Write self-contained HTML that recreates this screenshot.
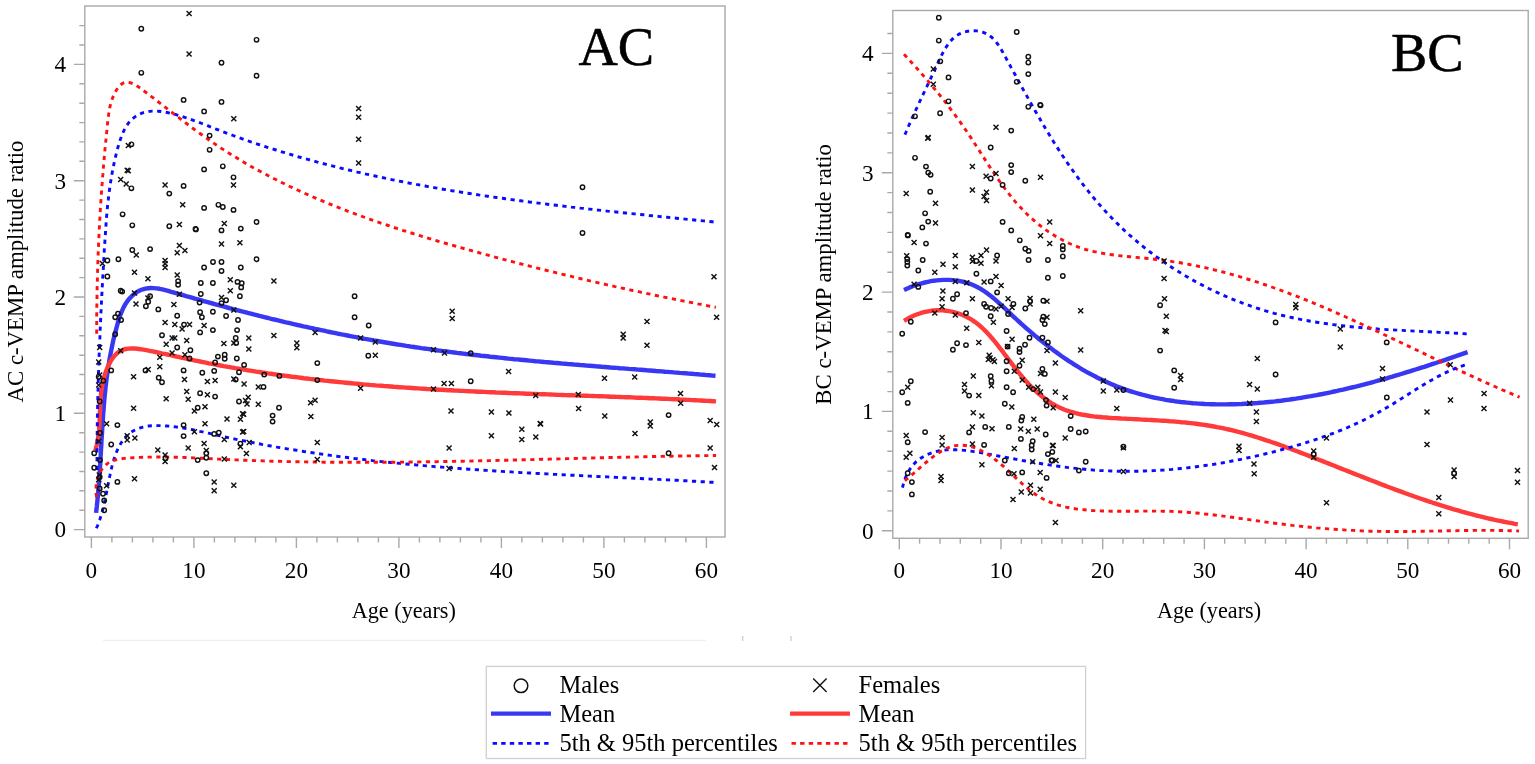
<!DOCTYPE html>
<html><head><meta charset="utf-8"><title>c-VEMP amplitude ratio</title>
<style>html,body{margin:0;padding:0;background:#fff;}body{width:1535px;height:764px;overflow:hidden;}svg{display:block;}text{fill:#000;}</style>
</head><body>
<svg width="1535" height="764" viewBox="0 0 1535 764"><rect width="1535" height="764" fill="#fff"/><rect x="84.8" y="6.0" width="640.2" height="531.0" fill="none" stroke="#a9a9a9" stroke-width="1.4"/><path d="M73.8,529.6h11.0M79.3,510.2h5.5M79.3,490.8h5.5M79.3,471.5h5.5M79.3,452.1h5.5M79.3,432.7h5.5M73.8,413.3h11.0M79.3,393.9h5.5M79.3,374.5h5.5M79.3,355.2h5.5M79.3,335.8h5.5M79.3,316.4h5.5M73.8,297.0h11.0M79.3,277.6h5.5M79.3,258.2h5.5M79.3,238.9h5.5M79.3,219.5h5.5M79.3,200.1h5.5M73.8,180.7h11.0M79.3,161.3h5.5M79.3,141.9h5.5M79.3,122.6h5.5M79.3,103.2h5.5M79.3,83.8h5.5M73.8,64.4h11.0M79.3,45.0h5.5M79.3,25.6h5.5M91.4,537.0v11.0M111.9,537.0v5.5M132.4,537.0v5.5M152.9,537.0v5.5M173.4,537.0v5.5M193.9,537.0v11.0M214.4,537.0v5.5M234.9,537.0v5.5M255.4,537.0v5.5M275.9,537.0v5.5M296.4,537.0v11.0M316.9,537.0v5.5M337.4,537.0v5.5M357.9,537.0v5.5M378.4,537.0v5.5M398.9,537.0v11.0M419.4,537.0v5.5M439.9,537.0v5.5M460.4,537.0v5.5M480.9,537.0v5.5M501.4,537.0v11.0M521.9,537.0v5.5M542.4,537.0v5.5M562.9,537.0v5.5M583.4,537.0v5.5M603.9,537.0v11.0M624.4,537.0v5.5M644.9,537.0v5.5M665.4,537.0v5.5M685.9,537.0v5.5M706.4,537.0v11.0" stroke="#a9a9a9" stroke-width="1.4" fill="none"/><text x="66.0" y="537.4" text-anchor="end" font-size="23.2" font-family="Liberation Serif, Times New Roman, serif">0</text><text x="66.0" y="421.1" text-anchor="end" font-size="23.2" font-family="Liberation Serif, Times New Roman, serif">1</text><text x="66.0" y="304.8" text-anchor="end" font-size="23.2" font-family="Liberation Serif, Times New Roman, serif">2</text><text x="66.0" y="188.5" text-anchor="end" font-size="23.2" font-family="Liberation Serif, Times New Roman, serif">3</text><text x="66.0" y="72.2" text-anchor="end" font-size="23.2" font-family="Liberation Serif, Times New Roman, serif">4</text><text x="91.4" y="577.8" text-anchor="middle" font-size="23.2" font-family="Liberation Serif, Times New Roman, serif">0</text><text x="193.9" y="577.8" text-anchor="middle" font-size="23.2" font-family="Liberation Serif, Times New Roman, serif">10</text><text x="296.4" y="577.8" text-anchor="middle" font-size="23.2" font-family="Liberation Serif, Times New Roman, serif">20</text><text x="398.9" y="577.8" text-anchor="middle" font-size="23.2" font-family="Liberation Serif, Times New Roman, serif">30</text><text x="501.4" y="577.8" text-anchor="middle" font-size="23.2" font-family="Liberation Serif, Times New Roman, serif">40</text><text x="603.9" y="577.8" text-anchor="middle" font-size="23.2" font-family="Liberation Serif, Times New Roman, serif">50</text><text x="706.4" y="577.8" text-anchor="middle" font-size="23.2" font-family="Liberation Serif, Times New Roman, serif">60</text><text x="403.8" y="617.8" text-anchor="middle" font-size="22.2" font-family="Liberation Serif, Times New Roman, serif">Age (years)</text><text transform="translate(22.5,271.5) rotate(-90)" text-anchor="middle" font-size="22.8" font-family="Liberation Serif, Times New Roman, serif">AC c-VEMP amplitude ratio</text><text x="578.5" y="64.5" font-size="54.5" stroke="#000" stroke-width="0.5" font-family="Liberation Serif, Times New Roman, serif">AC</text><path d="M96.1,512.9 L96.4,509.8 L96.8,506.8 L97.1,503.7 L97.4,500.7 L97.7,497.7 L98.0,494.6 L98.2,491.6 L98.5,488.6 L98.7,485.5 L99.0,482.5 L99.2,479.5 L99.4,476.5 L99.6,473.5 L99.8,470.5 L100.0,467.5 L100.2,464.5 L100.4,461.5 L100.5,458.5 L100.7,455.5 L100.9,452.5 L101.0,449.5 L101.2,446.5 L101.4,443.5 L101.5,440.5 L101.7,437.5 L101.9,434.5 L102.1,431.6 L102.2,428.6 L102.4,425.6 L102.6,422.6 L102.8,419.6 L103.0,416.7 L103.2,413.7 L103.5,410.7 L103.7,407.7 L103.9,404.7 L104.2,401.8 L104.4,398.8 L104.7,395.8 L105.0,392.8 L105.3,389.9 L105.6,386.9 L106.0,383.9 L106.3,380.9 L106.7,377.9 L107.1,375.0 L107.5,372.0 L108.0,369.0 L108.4,366.0 L108.9,363.0 L109.4,360.0 L109.9,357.1 L110.5,354.1 L111.1,351.1 L111.7,348.1 L112.3,345.1 L112.9,342.1 L113.6,339.1 L114.3,336.1 L115.1,333.1 L115.9,330.1 L116.7,327.0 L117.5,324.0 L118.4,321.0 L119.3,318.0 L120.3,315.1 L121.5,312.1 L122.7,309.3 L124.0,306.6 L125.5,303.9 L127.2,301.4 L129.0,299.1 L131.0,296.9 L133.2,294.9 L135.4,293.1 L137.8,291.5 L140.3,290.3 L142.9,289.3 L145.5,288.6 L148.2,288.2 L151.0,288.0 L153.8,288.1 L156.6,288.4 L159.5,288.8 L162.4,289.4 L165.3,290.1 L168.3,290.9 L171.2,291.8 L174.2,292.6 L177.1,293.5 L180.1,294.3 L183.1,295.2 L186.0,296.1 L189.0,296.9 L191.9,297.7 L194.9,298.6 L197.8,299.4 L200.8,300.2 L203.7,301.1 L206.7,301.9 L209.6,302.7 L212.6,303.5 L215.5,304.3 L218.5,305.1 L221.4,305.9 L224.3,306.7 L227.3,307.5 L230.2,308.3 L233.1,309.1 L236.1,309.8 L239.0,310.6 L241.9,311.4 L244.9,312.1 L247.8,312.9 L250.7,313.6 L253.7,314.4 L256.6,315.1 L259.5,315.9 L262.5,316.6 L265.4,317.3 L268.3,318.0 L271.2,318.8 L274.2,319.5 L277.1,320.2 L280.0,320.9 L283.0,321.6 L285.9,322.3 L288.8,322.9 L291.7,323.6 L294.7,324.3 L297.6,325.0 L300.5,325.6 L303.4,326.3 L306.4,326.9 L309.3,327.6 L312.2,328.2 L315.2,328.9 L318.1,329.5 L321.0,330.1 L324.0,330.7 L326.9,331.4 L329.8,332.0 L332.7,332.6 L335.7,333.2 L338.6,333.8 L341.6,334.4 L344.5,334.9 L347.4,335.5 L350.4,336.1 L353.3,336.7 L356.2,337.2 L359.2,337.8 L362.1,338.3 L365.1,338.9 L368.0,339.4 L371.0,339.9 L373.9,340.5 L376.9,341.0 L379.8,341.5 L382.8,342.0 L385.7,342.5 L388.7,343.0 L391.6,343.5 L394.6,344.0 L397.6,344.5 L400.5,344.9 L403.5,345.4 L406.5,345.9 L409.4,346.3 L412.4,346.8 L415.4,347.2 L418.4,347.6 L421.3,348.1 L424.3,348.5 L427.3,348.9 L430.3,349.3 L433.3,349.8 L436.2,350.2 L439.2,350.6 L442.2,351.0 L445.2,351.3 L448.2,351.7 L451.2,352.1 L454.2,352.5 L457.2,352.9 L460.2,353.2 L463.2,353.6 L466.2,354.0 L469.2,354.3 L472.2,354.7 L475.2,355.0 L478.2,355.3 L481.2,355.7 L484.2,356.0 L487.2,356.3 L490.2,356.7 L493.2,357.0 L496.2,357.3 L499.2,357.6 L502.2,357.9 L505.2,358.2 L508.2,358.6 L511.2,358.9 L514.3,359.2 L517.3,359.4 L520.3,359.7 L523.3,360.0 L526.3,360.3 L529.3,360.6 L532.3,360.9 L535.3,361.2 L538.4,361.4 L541.4,361.7 L544.4,362.0 L547.4,362.2 L550.4,362.5 L553.4,362.8 L556.5,363.0 L559.5,363.3 L562.5,363.6 L565.5,363.8 L568.5,364.1 L571.5,364.3 L574.6,364.6 L577.6,364.8 L580.6,365.1 L583.6,365.3 L586.6,365.6 L589.6,365.8 L592.6,366.0 L595.7,366.3 L598.7,366.5 L601.7,366.8 L604.7,367.0 L607.7,367.2 L610.7,367.5 L613.7,367.7 L616.7,367.9 L619.8,368.2 L622.8,368.4 L625.8,368.6 L628.8,368.9 L631.8,369.1 L634.8,369.3 L637.8,369.6 L640.8,369.8 L643.8,370.0 L646.8,370.3 L649.8,370.5 L652.8,370.7 L655.8,371.0 L658.8,371.2 L661.8,371.4 L664.8,371.7 L667.8,371.9 L670.8,372.1 L673.8,372.4 L676.8,372.6 L679.7,372.9 L682.7,373.1 L685.7,373.3 L688.7,373.6 L691.7,373.8 L694.7,374.1 L697.6,374.3 L700.6,374.6 L703.6,374.8 L706.6,375.1 L709.6,375.3 L712.5,375.6 L715.5,375.8" stroke="#3838f4" stroke-width="4.4" fill="none" stroke-linejoin="round"/><path d="M95.4,450.4 L96.2,447.4 L96.9,444.4 L97.5,441.4 L98.0,438.4 L98.4,435.4 L98.8,432.5 L99.1,429.5 L99.3,426.5 L99.5,423.5 L99.6,420.5 L99.7,417.5 L99.8,414.6 L99.9,411.6 L100.1,408.6 L100.2,405.6 L100.3,402.6 L100.5,399.6 L100.8,396.7 L101.0,393.7 L101.4,390.7 L101.8,387.7 L102.3,384.7 L103.0,381.7 L103.7,378.8 L104.5,375.8 L105.5,372.8 L106.6,369.8 L107.8,366.8 L109.2,363.9 L110.7,361.1 L112.4,358.5 L114.3,356.1 L116.3,354.0 L118.4,352.2 L120.8,350.8 L123.2,349.7 L125.9,349.0 L128.6,348.6 L131.4,348.5 L134.4,348.5 L137.3,348.8 L140.4,349.2 L143.4,349.7 L146.5,350.2 L149.5,350.8 L152.6,351.4 L155.6,352.0 L158.6,352.6 L161.6,353.3 L164.6,353.9 L167.5,354.5 L170.5,355.2 L173.5,355.8 L176.4,356.5 L179.4,357.1 L182.3,357.8 L185.3,358.4 L188.2,359.0 L191.1,359.7 L194.1,360.3 L197.0,360.9 L200.0,361.5 L202.9,362.1 L205.9,362.7 L208.8,363.3 L211.8,363.8 L214.7,364.4 L217.7,365.0 L220.6,365.5 L223.6,366.1 L226.5,366.6 L229.5,367.1 L232.5,367.6 L235.4,368.2 L238.4,368.7 L241.3,369.2 L244.3,369.7 L247.3,370.2 L250.2,370.6 L253.2,371.1 L256.2,371.6 L259.2,372.0 L262.1,372.5 L265.1,372.9 L268.1,373.4 L271.0,373.8 L274.0,374.2 L277.0,374.6 L280.0,375.1 L283.0,375.5 L285.9,375.9 L288.9,376.3 L291.9,376.7 L294.9,377.0 L297.9,377.4 L300.8,377.8 L303.8,378.2 L306.8,378.5 L309.8,378.9 L312.8,379.2 L315.8,379.6 L318.8,379.9 L321.8,380.2 L324.8,380.6 L327.7,380.9 L330.7,381.2 L333.7,381.5 L336.7,381.8 L339.7,382.1 L342.7,382.4 L345.7,382.7 L348.7,383.0 L351.7,383.3 L354.7,383.6 L357.7,383.8 L360.7,384.1 L363.7,384.4 L366.7,384.6 L369.7,384.9 L372.7,385.1 L375.7,385.4 L378.7,385.6 L381.7,385.8 L384.7,386.1 L387.7,386.3 L390.8,386.5 L393.8,386.8 L396.8,387.0 L399.8,387.2 L402.8,387.4 L405.8,387.6 L408.8,387.8 L411.8,388.0 L414.8,388.2 L417.8,388.4 L420.8,388.6 L423.9,388.8 L426.9,389.0 L429.9,389.1 L432.9,389.3 L435.9,389.5 L438.9,389.7 L441.9,389.8 L445.0,390.0 L448.0,390.2 L451.0,390.3 L454.0,390.5 L457.0,390.6 L460.0,390.8 L463.0,390.9 L466.1,391.1 L469.1,391.2 L472.1,391.4 L475.1,391.5 L478.1,391.7 L481.1,391.8 L484.2,391.9 L487.2,392.1 L490.2,392.2 L493.2,392.3 L496.2,392.5 L499.3,392.6 L502.3,392.7 L505.3,392.8 L508.3,393.0 L511.3,393.1 L514.3,393.2 L517.4,393.3 L520.4,393.4 L523.4,393.5 L526.4,393.7 L529.4,393.8 L532.5,393.9 L535.5,394.0 L538.5,394.1 L541.5,394.2 L544.5,394.3 L547.5,394.4 L550.6,394.5 L553.6,394.6 L556.6,394.8 L559.6,394.9 L562.6,395.0 L565.6,395.1 L568.7,395.2 L571.7,395.3 L574.7,395.4 L577.7,395.5 L580.7,395.6 L583.7,395.7 L586.8,395.8 L589.8,395.9 L592.8,396.0 L595.8,396.1 L598.8,396.2 L601.8,396.3 L604.8,396.4 L607.9,396.5 L610.9,396.7 L613.9,396.8 L616.9,396.9 L619.9,397.0 L622.9,397.1 L625.9,397.2 L628.9,397.3 L631.9,397.4 L634.9,397.6 L638.0,397.7 L641.0,397.8 L644.0,397.9 L647.0,398.0 L650.0,398.2 L653.0,398.3 L656.0,398.4 L659.0,398.5 L662.0,398.7 L665.0,398.8 L668.0,398.9 L671.0,399.1 L674.0,399.2 L677.0,399.3 L680.0,399.5 L683.0,399.6 L686.0,399.8 L689.0,399.9 L692.0,400.1 L695.0,400.2 L698.0,400.4 L701.0,400.5 L704.0,400.7 L707.0,400.9 L710.0,401.0 L713.0,401.2 L716.0,401.4" stroke="#ff3a3a" stroke-width="4.4" fill="none" stroke-linejoin="round"/><path d="M96.9,469.9 L96.9,466.9 L96.9,463.9 L97.0,460.9 L97.0,457.9 L97.0,454.9 L97.0,452.0 L97.0,449.0 L97.0,446.0 L97.1,443.0 L97.1,440.0 L97.1,437.0 L97.2,434.0 L97.2,430.9 L97.2,427.9 L97.3,424.9 L97.3,421.9 L97.4,418.9 L97.4,415.9 L97.5,412.9 L97.6,409.9 L97.6,406.9 L97.7,403.8 L97.8,400.8 L97.8,397.8 L97.9,394.8 L98.0,391.8 L98.1,388.7 L98.2,385.7 L98.2,382.7 L98.3,379.7 L98.4,376.7 L98.5,373.6 L98.6,370.6 L98.7,367.6 L98.8,364.6 L98.9,361.5 L99.0,358.5 L99.1,355.5 L99.3,352.5 L99.4,349.4 L99.5,346.4 L99.6,343.4 L99.7,340.4 L99.9,337.4 L100.0,334.3 L100.1,331.3 L100.2,328.3 L100.4,325.3 L100.5,322.2 L100.7,319.2 L100.8,316.2 L100.9,313.2 L101.1,310.2 L101.2,307.2 L101.4,304.1 L101.5,301.1 L101.7,298.1 L101.8,295.1 L102.0,292.1 L102.1,289.1 L102.3,286.1 L102.5,283.1 L102.6,280.1 L102.8,277.1 L103.0,274.1 L103.1,271.1 L103.3,268.1 L103.5,265.1 L103.6,262.1 L103.8,259.1 L104.0,256.1 L104.2,253.1 L104.3,250.1 L104.5,247.2 L104.7,244.2 L104.9,241.2 L105.1,238.2 L105.3,235.2 L105.5,232.3 L105.7,229.3 L105.9,226.3 L106.1,223.3 L106.3,220.4 L106.5,217.4 L106.8,214.4 L107.1,211.5 L107.3,208.5 L107.6,205.5 L107.9,202.5 L108.3,199.5 L108.6,196.6 L109.0,193.6 L109.4,190.6 L109.8,187.6 L110.2,184.6 L110.7,181.6 L111.2,178.6 L111.7,175.6 L112.2,172.6 L112.8,169.5 L113.4,166.5 L114.0,163.5 L114.7,160.5 L115.4,157.4 L116.1,154.4 L116.9,151.3 L117.7,148.2 L118.6,145.2 L119.5,142.1 L120.5,139.1 L121.5,136.2 L122.7,133.3 L123.9,130.6 L125.3,128.0 L126.8,125.5 L128.4,123.1 L130.2,121.0 L132.2,119.1 L134.3,117.3 L136.5,115.8 L138.9,114.5 L141.4,113.4 L144.0,112.5 L146.7,111.8 L149.5,111.4 L152.3,111.1 L155.2,111.1 L158.2,111.2 L161.2,111.5 L164.2,112.0 L167.2,112.5 L170.2,113.2 L173.1,113.9 L176.1,114.6 L179.0,115.5 L181.9,116.3 L184.8,117.3 L187.7,118.2 L190.6,119.2 L193.4,120.3 L196.3,121.3 L199.1,122.4 L201.9,123.5 L204.8,124.6 L207.6,125.7 L210.4,126.9 L213.3,128.0 L216.1,129.1 L218.9,130.2 L221.7,131.3 L224.6,132.3 L227.4,133.4 L230.3,134.5 L233.1,135.5 L236.0,136.5 L238.8,137.6 L241.7,138.6 L244.5,139.6 L247.4,140.6 L250.2,141.6 L253.1,142.5 L255.9,143.5 L258.8,144.5 L261.7,145.4 L264.6,146.4 L267.4,147.3 L270.3,148.2 L273.2,149.1 L276.0,150.0 L278.9,150.9 L281.8,151.8 L284.7,152.7 L287.6,153.6 L290.5,154.4 L293.4,155.3 L296.3,156.1 L299.1,157.0 L302.0,157.8 L304.9,158.6 L307.8,159.4 L310.7,160.2 L313.6,161.0 L316.6,161.8 L319.5,162.6 L322.4,163.4 L325.3,164.1 L328.2,164.9 L331.1,165.7 L334.0,166.4 L336.9,167.1 L339.9,167.9 L342.8,168.6 L345.7,169.3 L348.6,170.0 L351.6,170.7 L354.5,171.4 L357.4,172.1 L360.3,172.7 L363.3,173.4 L366.2,174.1 L369.1,174.7 L372.1,175.4 L375.0,176.0 L378.0,176.7 L380.9,177.3 L383.9,177.9 L386.8,178.5 L389.7,179.2 L392.7,179.8 L395.6,180.4 L398.6,181.0 L401.5,181.5 L404.5,182.1 L407.4,182.7 L410.4,183.3 L413.4,183.8 L416.3,184.4 L419.3,184.9 L422.2,185.5 L425.2,186.0 L428.2,186.6 L431.1,187.1 L434.1,187.6 L437.1,188.1 L440.0,188.7 L443.0,189.2 L446.0,189.7 L448.9,190.2 L451.9,190.7 L454.9,191.1 L457.8,191.6 L460.8,192.1 L463.8,192.6 L466.8,193.1 L469.8,193.5 L472.7,194.0 L475.7,194.4 L478.7,194.9 L481.7,195.3 L484.6,195.8 L487.6,196.2 L490.6,196.7 L493.6,197.1 L496.6,197.5 L499.6,197.9 L502.6,198.3 L505.5,198.8 L508.5,199.2 L511.5,199.6 L514.5,200.0 L517.5,200.4 L520.5,200.8 L523.5,201.2 L526.5,201.6 L529.5,202.0 L532.4,202.3 L535.4,202.7 L538.4,203.1 L541.4,203.5 L544.4,203.8 L547.4,204.2 L550.4,204.6 L553.4,204.9 L556.4,205.3 L559.4,205.7 L562.4,206.0 L565.4,206.4 L568.4,206.7 L571.4,207.1 L574.4,207.4 L577.4,207.7 L580.4,208.1 L583.4,208.4 L586.4,208.8 L589.4,209.1 L592.4,209.4 L595.4,209.8 L598.4,210.1 L601.4,210.4 L604.4,210.7 L607.4,211.1 L610.4,211.4 L613.4,211.7 L616.4,212.0 L619.4,212.3 L622.4,212.7 L625.4,213.0 L628.4,213.3 L631.4,213.6 L634.4,213.9 L637.4,214.2 L640.4,214.5 L643.4,214.8 L646.4,215.1 L649.4,215.5 L652.4,215.8 L655.4,216.1 L658.4,216.4 L661.4,216.7 L664.4,217.0 L667.3,217.3 L670.3,217.6 L673.3,217.9 L676.3,218.2 L679.3,218.5 L682.3,218.8 L685.3,219.1 L688.3,219.4 L691.3,219.7 L694.3,220.0 L697.3,220.3 L700.3,220.6 L703.3,220.9 L706.3,221.2 L709.3,221.5 L712.3,221.8 L715.2,222.2" stroke="#0a0aff" stroke-width="2.9" fill="none" stroke-dasharray="4.2 4.5"/><path d="M96.7,333.8 L96.7,330.7 L96.7,327.7 L96.7,324.7 L96.7,321.6 L96.7,318.6 L96.7,315.6 L96.8,312.5 L96.8,309.5 L96.8,306.5 L96.9,303.5 L96.9,300.4 L97.0,297.4 L97.0,294.4 L97.1,291.4 L97.1,288.4 L97.2,285.4 L97.3,282.3 L97.4,279.3 L97.4,276.3 L97.5,273.3 L97.6,270.3 L97.7,267.3 L97.8,264.3 L97.9,261.3 L98.0,258.3 L98.1,255.3 L98.2,252.3 L98.4,249.2 L98.5,246.2 L98.6,243.2 L98.7,240.2 L98.9,237.2 L99.0,234.2 L99.2,231.2 L99.3,228.2 L99.5,225.2 L99.6,222.2 L99.8,219.2 L100.0,216.2 L100.2,213.2 L100.3,210.2 L100.5,207.2 L100.7,204.2 L100.9,201.2 L101.1,198.2 L101.3,195.2 L101.5,192.2 L101.7,189.2 L101.9,186.2 L102.2,183.2 L102.4,180.2 L102.6,177.2 L102.9,174.2 L103.1,171.2 L103.3,168.2 L103.6,165.2 L103.9,162.2 L104.1,159.2 L104.4,156.2 L104.7,153.2 L104.9,150.1 L105.2,147.1 L105.5,144.1 L105.8,141.1 L106.1,138.1 L106.4,135.1 L106.7,132.1 L107.0,129.0 L107.3,126.0 L107.6,123.0 L108.0,120.0 L108.3,116.9 L108.7,113.9 L109.2,110.9 L109.7,107.9 L110.4,104.9 L111.2,101.9 L112.2,98.9 L113.4,95.9 L114.8,93.0 L116.3,90.2 L118.1,87.6 L120.0,85.5 L122.0,83.8 L124.1,82.7 L126.4,82.2 L128.7,82.4 L131.1,83.0 L133.5,84.0 L136.0,85.3 L138.5,86.9 L141.0,88.7 L143.5,90.6 L146.1,92.5 L148.6,94.4 L151.1,96.3 L153.6,98.2 L156.0,100.1 L158.5,102.0 L161.0,103.9 L163.4,105.8 L165.8,107.7 L168.3,109.6 L170.7,111.4 L173.1,113.3 L175.5,115.2 L178.0,117.0 L180.4,118.9 L182.8,120.7 L185.2,122.5 L187.6,124.3 L190.0,126.2 L192.4,128.0 L194.8,129.7 L197.3,131.5 L199.7,133.3 L202.1,135.0 L204.5,136.8 L207.0,138.5 L209.4,140.2 L211.9,141.9 L214.4,143.6 L216.8,145.3 L219.3,146.9 L221.8,148.6 L224.3,150.2 L226.8,151.8 L229.4,153.4 L231.9,155.0 L234.5,156.6 L237.0,158.1 L239.6,159.7 L242.1,161.2 L244.7,162.7 L247.3,164.2 L249.9,165.7 L252.5,167.2 L255.1,168.6 L257.7,170.1 L260.4,171.5 L263.0,172.9 L265.7,174.3 L268.3,175.7 L271.0,177.1 L273.6,178.5 L276.3,179.8 L279.0,181.2 L281.7,182.5 L284.4,183.8 L287.1,185.2 L289.8,186.5 L292.5,187.7 L295.3,189.0 L298.0,190.3 L300.7,191.5 L303.5,192.8 L306.2,194.0 L309.0,195.2 L311.7,196.4 L314.5,197.6 L317.3,198.8 L320.1,200.0 L322.9,201.2 L325.6,202.3 L328.4,203.5 L331.2,204.6 L334.0,205.8 L336.9,206.9 L339.7,208.0 L342.5,209.1 L345.3,210.2 L348.1,211.3 L351.0,212.3 L353.8,213.4 L356.7,214.5 L359.5,215.5 L362.4,216.5 L365.2,217.6 L368.1,218.6 L370.9,219.6 L373.8,220.6 L376.7,221.6 L379.5,222.6 L382.4,223.6 L385.3,224.6 L388.2,225.5 L391.1,226.5 L393.9,227.5 L396.8,228.4 L399.7,229.3 L402.6,230.3 L405.5,231.2 L408.4,232.1 L411.3,233.0 L414.2,233.9 L417.1,234.8 L420.0,235.7 L422.9,236.6 L425.8,237.5 L428.7,238.4 L431.7,239.3 L434.6,240.1 L437.5,241.0 L440.4,241.8 L443.3,242.7 L446.2,243.5 L449.1,244.4 L452.1,245.2 L455.0,246.0 L457.9,246.9 L460.8,247.7 L463.7,248.5 L466.6,249.3 L469.6,250.1 L472.5,250.9 L475.4,251.8 L478.3,252.5 L481.2,253.3 L484.1,254.1 L487.0,254.9 L490.0,255.7 L492.9,256.5 L495.8,257.3 L498.7,258.1 L501.6,258.8 L504.5,259.6 L507.4,260.4 L510.3,261.1 L513.2,261.9 L516.1,262.6 L519.0,263.4 L521.9,264.1 L524.9,264.9 L527.8,265.6 L530.7,266.4 L533.6,267.1 L536.5,267.9 L539.4,268.6 L542.3,269.3 L545.2,270.0 L548.1,270.8 L551.0,271.5 L553.9,272.2 L556.8,272.9 L559.7,273.6 L562.6,274.3 L565.5,275.0 L568.4,275.7 L571.4,276.4 L574.3,277.1 L577.2,277.8 L580.1,278.5 L583.0,279.2 L585.9,279.9 L588.8,280.6 L591.7,281.3 L594.7,281.9 L597.6,282.6 L600.5,283.3 L603.4,283.9 L606.3,284.6 L609.3,285.3 L612.2,285.9 L615.1,286.6 L618.0,287.2 L621.0,287.9 L623.9,288.5 L626.8,289.2 L629.8,289.8 L632.7,290.5 L635.6,291.1 L638.6,291.7 L641.5,292.4 L644.5,293.0 L647.4,293.6 L650.4,294.2 L653.3,294.9 L656.3,295.5 L659.2,296.1 L662.2,296.7 L665.1,297.3 L668.1,297.9 L671.1,298.5 L674.0,299.1 L677.0,299.7 L680.0,300.3 L682.9,300.9 L685.9,301.5 L688.9,302.1 L691.9,302.7 L694.9,303.3 L697.9,303.9 L700.9,304.4 L703.9,305.0 L706.9,305.6 L709.9,306.2 L712.9,306.7 L715.9,307.3" stroke="#ff1010" stroke-width="2.9" fill="none" stroke-dasharray="4.2 4.5"/><path d="M96.4,528.3 L97.6,525.5 L98.7,522.7 L99.7,519.9 L100.6,517.1 L101.5,514.3 L102.3,511.4 L103.1,508.6 L103.8,505.8 L104.4,502.9 L105.0,500.1 L105.6,497.2 L106.2,494.3 L106.8,491.3 L107.4,488.3 L107.9,485.3 L108.5,482.3 L109.1,479.2 L109.8,476.0 L110.4,472.9 L111.2,469.7 L111.9,466.5 L112.7,463.4 L113.6,460.3 L114.6,457.2 L115.7,454.3 L116.8,451.4 L118.1,448.5 L119.4,445.9 L120.9,443.3 L122.5,440.9 L124.2,438.6 L126.1,436.5 L128.1,434.6 L130.3,432.8 L132.6,431.3 L135.0,430.0 L137.6,428.8 L140.3,427.9 L143.0,427.1 L145.8,426.5 L148.7,426.0 L151.7,425.7 L154.7,425.6 L157.7,425.6 L160.7,425.6 L163.8,425.8 L166.8,426.0 L169.8,426.2 L172.8,426.6 L175.8,426.9 L178.8,427.4 L181.8,427.8 L184.7,428.3 L187.7,428.9 L190.7,429.4 L193.7,430.0 L196.6,430.6 L199.6,431.3 L202.6,431.9 L205.5,432.6 L208.5,433.2 L211.5,433.9 L214.4,434.6 L217.4,435.3 L220.4,435.9 L223.3,436.6 L226.3,437.2 L229.3,437.9 L232.2,438.5 L235.2,439.1 L238.2,439.7 L241.2,440.3 L244.1,440.9 L247.1,441.5 L250.1,442.1 L253.1,442.7 L256.0,443.3 L259.0,443.8 L262.0,444.4 L265.0,444.9 L267.9,445.5 L270.9,446.0 L273.9,446.5 L276.9,447.1 L279.9,447.6 L282.8,448.1 L285.8,448.6 L288.8,449.1 L291.8,449.6 L294.8,450.0 L297.8,450.5 L300.7,451.0 L303.7,451.5 L306.7,451.9 L309.7,452.4 L312.7,452.8 L315.7,453.3 L318.7,453.7 L321.7,454.1 L324.6,454.5 L327.6,455.0 L330.6,455.4 L333.6,455.8 L336.6,456.2 L339.6,456.6 L342.6,457.0 L345.6,457.3 L348.6,457.7 L351.6,458.1 L354.6,458.5 L357.6,458.8 L360.6,459.2 L363.6,459.5 L366.6,459.9 L369.6,460.2 L372.6,460.6 L375.6,460.9 L378.6,461.2 L381.6,461.6 L384.6,461.9 L387.6,462.2 L390.6,462.5 L393.6,462.8 L396.6,463.1 L399.6,463.4 L402.6,463.7 L405.6,464.0 L408.6,464.3 L411.6,464.6 L414.6,464.8 L417.6,465.1 L420.6,465.4 L423.6,465.6 L426.6,465.9 L429.6,466.2 L432.6,466.4 L435.6,466.7 L438.7,466.9 L441.7,467.1 L444.7,467.4 L447.7,467.6 L450.7,467.9 L453.7,468.1 L456.7,468.3 L459.7,468.5 L462.7,468.8 L465.7,469.0 L468.8,469.2 L471.8,469.4 L474.8,469.6 L477.8,469.8 L480.8,470.0 L483.8,470.2 L486.8,470.4 L489.8,470.6 L492.9,470.8 L495.9,471.0 L498.9,471.2 L501.9,471.4 L504.9,471.6 L507.9,471.7 L510.9,471.9 L514.0,472.1 L517.0,472.3 L520.0,472.5 L523.0,472.6 L526.0,472.8 L529.0,473.0 L532.0,473.1 L535.1,473.3 L538.1,473.5 L541.1,473.6 L544.1,473.8 L547.1,473.9 L550.1,474.1 L553.2,474.3 L556.2,474.4 L559.2,474.6 L562.2,474.7 L565.2,474.9 L568.2,475.0 L571.3,475.2 L574.3,475.3 L577.3,475.5 L580.3,475.6 L583.3,475.8 L586.4,475.9 L589.4,476.1 L592.4,476.2 L595.4,476.4 L598.4,476.5 L601.4,476.7 L604.5,476.8 L607.5,476.9 L610.5,477.1 L613.5,477.2 L616.5,477.4 L619.6,477.5 L622.6,477.7 L625.6,477.8 L628.6,478.0 L631.6,478.1 L634.6,478.2 L637.7,478.4 L640.7,478.5 L643.7,478.7 L646.7,478.8 L649.7,479.0 L652.8,479.1 L655.8,479.3 L658.8,479.4 L661.8,479.6 L664.8,479.7 L667.8,479.9 L670.9,480.0 L673.9,480.2 L676.9,480.3 L679.9,480.5 L682.9,480.7 L685.9,480.8 L689.0,481.0 L692.0,481.2 L695.0,481.3 L698.0,481.5 L701.0,481.7 L704.0,481.8 L707.1,482.0 L710.1,482.2 L713.1,482.3 L716.1,482.5" stroke="#0a0aff" stroke-width="2.9" fill="none" stroke-dasharray="4.2 4.5"/><path d="M96.6,497.2 L96.1,493.9 L95.9,490.5 L96.0,487.2 L96.4,483.9 L97.0,480.6 L97.9,477.5 L99.0,474.5 L100.4,471.7 L102.0,469.1 L103.8,466.8 L105.9,464.8 L108.1,463.1 L110.5,461.7 L113.1,460.6 L115.8,459.8 L118.7,459.2 L121.6,458.7 L124.5,458.4 L127.5,458.1 L130.5,457.9 L133.5,457.7 L136.6,457.6 L139.6,457.4 L142.6,457.3 L145.6,457.2 L148.6,457.1 L151.6,457.1 L154.6,457.0 L157.6,457.0 L160.6,457.0 L163.7,457.0 L166.7,457.0 L169.7,457.1 L172.7,457.2 L175.7,457.2 L178.7,457.3 L181.8,457.4 L184.8,457.5 L187.8,457.6 L190.8,457.8 L193.8,457.9 L196.9,458.0 L199.9,458.2 L202.9,458.3 L205.9,458.5 L209.0,458.6 L212.0,458.8 L215.0,458.9 L218.0,459.1 L221.0,459.2 L224.1,459.4 L227.1,459.5 L230.1,459.6 L233.1,459.8 L236.1,459.9 L239.2,460.0 L242.2,460.2 L245.2,460.3 L248.2,460.4 L251.3,460.5 L254.3,460.6 L257.3,460.7 L260.3,460.8 L263.3,460.9 L266.4,461.0 L269.4,461.1 L272.4,461.2 L275.4,461.3 L278.4,461.3 L281.5,461.4 L284.5,461.5 L287.5,461.6 L290.5,461.6 L293.5,461.7 L296.6,461.7 L299.6,461.8 L302.6,461.9 L305.6,461.9 L308.6,462.0 L311.7,462.0 L314.7,462.0 L317.7,462.1 L320.7,462.1 L323.7,462.2 L326.7,462.2 L329.8,462.2 L332.8,462.2 L335.8,462.3 L338.8,462.3 L341.8,462.3 L344.9,462.3 L347.9,462.3 L350.9,462.3 L353.9,462.3 L356.9,462.3 L360.0,462.3 L363.0,462.3 L366.0,462.3 L369.0,462.3 L372.0,462.3 L375.0,462.3 L378.1,462.3 L381.1,462.3 L384.1,462.3 L387.1,462.3 L390.1,462.2 L393.2,462.2 L396.2,462.2 L399.2,462.2 L402.2,462.1 L405.2,462.1 L408.2,462.1 L411.3,462.0 L414.3,462.0 L417.3,462.0 L420.3,461.9 L423.3,461.9 L426.4,461.8 L429.4,461.8 L432.4,461.7 L435.4,461.7 L438.4,461.6 L441.4,461.6 L444.5,461.5 L447.5,461.5 L450.5,461.4 L453.5,461.4 L456.5,461.3 L459.6,461.3 L462.6,461.2 L465.6,461.1 L468.6,461.1 L471.6,461.0 L474.6,461.0 L477.7,460.9 L480.7,460.8 L483.7,460.8 L486.7,460.7 L489.7,460.6 L492.7,460.6 L495.8,460.5 L498.8,460.4 L501.8,460.3 L504.8,460.3 L507.8,460.2 L510.9,460.1 L513.9,460.0 L516.9,460.0 L519.9,459.9 L522.9,459.8 L525.9,459.7 L529.0,459.7 L532.0,459.6 L535.0,459.5 L538.0,459.4 L541.0,459.3 L544.0,459.3 L547.1,459.2 L550.1,459.1 L553.1,459.0 L556.1,459.0 L559.1,458.9 L562.2,458.8 L565.2,458.7 L568.2,458.6 L571.2,458.6 L574.2,458.5 L577.2,458.4 L580.3,458.3 L583.3,458.2 L586.3,458.2 L589.3,458.1 L592.3,458.0 L595.4,457.9 L598.4,457.8 L601.4,457.8 L604.4,457.7 L607.4,457.6 L610.4,457.5 L613.5,457.5 L616.5,457.4 L619.5,457.3 L622.5,457.2 L625.5,457.2 L628.6,457.1 L631.6,457.0 L634.6,457.0 L637.6,456.9 L640.6,456.8 L643.6,456.7 L646.7,456.7 L649.7,456.6 L652.7,456.5 L655.7,456.5 L658.7,456.4 L661.8,456.4 L664.8,456.3 L667.8,456.2 L670.8,456.2 L673.8,456.1 L676.9,456.1 L679.9,456.0 L682.9,456.0 L685.9,455.9 L688.9,455.9 L692.0,455.8 L695.0,455.8 L698.0,455.7 L701.0,455.7 L704.0,455.6 L707.1,455.6 L710.1,455.6 L713.1,455.5 L716.1,455.5" stroke="#ff1010" stroke-width="2.9" fill="none" stroke-dasharray="4.2 4.5"/><g fill="none" stroke="#111" stroke-width="1.45"><circle cx="141.3" cy="28.8" r="2.2"/><circle cx="221.5" cy="62.7" r="2.2"/><circle cx="141.3" cy="72.8" r="2.2"/><circle cx="183.6" cy="99.9" r="2.2"/><circle cx="221.5" cy="101.9" r="2.2"/><circle cx="204.1" cy="111.4" r="2.2"/><circle cx="209.6" cy="135.6" r="2.2"/><circle cx="256.5" cy="39.8" r="2.2"/><circle cx="256.5" cy="75.7" r="2.2"/><circle cx="582.5" cy="187.2" r="2.2"/><circle cx="582.5" cy="233.0" r="2.2"/><circle cx="256.5" cy="222.0" r="2.2"/><circle cx="256.5" cy="259.2" r="2.2"/><circle cx="209.6" cy="149.8" r="2.2"/><circle cx="131.4" cy="144.3" r="2.2"/><circle cx="131.4" cy="188.3" r="2.2"/><circle cx="204.1" cy="169.4" r="2.2"/><circle cx="222.8" cy="166.3" r="2.2"/><circle cx="233.5" cy="177.3" r="2.2"/><circle cx="183.6" cy="185.9" r="2.2"/><circle cx="169.3" cy="193.6" r="2.2"/><circle cx="204.1" cy="207.9" r="2.2"/><circle cx="218.4" cy="204.8" r="2.2"/><circle cx="222.8" cy="207.0" r="2.2"/><circle cx="233.5" cy="209.9" r="2.2"/><circle cx="122.6" cy="214.3" r="2.2"/><circle cx="132.3" cy="225.3" r="2.2"/><circle cx="169.3" cy="226.2" r="2.2"/><circle cx="195.5" cy="229.0" r="2.2"/><circle cx="195.9" cy="229.4" r="2.2"/><circle cx="221.5" cy="230.4" r="2.2"/><circle cx="240.8" cy="228.6" r="2.2"/><circle cx="132.3" cy="250.0" r="2.2"/><circle cx="150.1" cy="249.1" r="2.2"/><circle cx="107.4" cy="260.5" r="2.2"/><circle cx="118.4" cy="259.2" r="2.2"/><circle cx="213.0" cy="262.0" r="2.2"/><circle cx="221.5" cy="262.0" r="2.2"/><circle cx="204.1" cy="267.5" r="2.2"/><circle cx="240.8" cy="267.5" r="2.2"/><circle cx="107.4" cy="276.5" r="2.2"/><circle cx="178.1" cy="281.1" r="2.2"/><circle cx="178.1" cy="284.8" r="2.2"/><circle cx="221.5" cy="271.0" r="2.2"/><circle cx="200.8" cy="283.0" r="2.2"/><circle cx="212.9" cy="283.0" r="2.2"/><circle cx="237.5" cy="281.9" r="2.2"/><circle cx="241.7" cy="283.3" r="2.2"/><circle cx="241.2" cy="287.4" r="2.2"/><circle cx="239.9" cy="296.2" r="2.2"/><circle cx="120.7" cy="290.7" r="2.2"/><circle cx="122.2" cy="291.6" r="2.2"/><circle cx="150.1" cy="296.2" r="2.2"/><circle cx="148.2" cy="301.7" r="2.2"/><circle cx="145.9" cy="306.2" r="2.2"/><circle cx="158.3" cy="309.4" r="2.2"/><circle cx="200.8" cy="294.0" r="2.2"/><circle cx="199.6" cy="302.6" r="2.2"/><circle cx="221.5" cy="303.1" r="2.2"/><circle cx="226.1" cy="300.2" r="2.2"/><circle cx="200.1" cy="312.3" r="2.2"/><circle cx="201.9" cy="317.2" r="2.2"/><circle cx="212.9" cy="311.7" r="2.2"/><circle cx="226.1" cy="316.0" r="2.2"/><circle cx="238.0" cy="320.0" r="2.2"/><circle cx="177.2" cy="315.8" r="2.2"/><circle cx="118.0" cy="313.6" r="2.2"/><circle cx="115.2" cy="317.2" r="2.2"/><circle cx="121.1" cy="320.0" r="2.2"/><circle cx="184.0" cy="324.6" r="2.2"/><circle cx="200.1" cy="332.4" r="2.2"/><circle cx="212.9" cy="330.1" r="2.2"/><circle cx="237.1" cy="330.1" r="2.2"/><circle cx="115.2" cy="334.3" r="2.2"/><circle cx="162.0" cy="335.2" r="2.2"/><circle cx="177.2" cy="347.5" r="2.2"/><circle cx="235.7" cy="338.0" r="2.2"/><circle cx="236.2" cy="342.9" r="2.2"/><circle cx="190.4" cy="350.2" r="2.2"/><circle cx="189.5" cy="358.5" r="2.2"/><circle cx="217.9" cy="356.6" r="2.2"/><circle cx="224.7" cy="354.8" r="2.2"/><circle cx="224.7" cy="358.8" r="2.2"/><circle cx="236.8" cy="358.5" r="2.2"/><circle cx="215.1" cy="362.5" r="2.2"/><circle cx="244.1" cy="364.9" r="2.2"/><circle cx="111.2" cy="370.4" r="2.2"/><circle cx="145.5" cy="370.4" r="2.2"/><circle cx="183.6" cy="370.4" r="2.2"/><circle cx="202.3" cy="372.8" r="2.2"/><circle cx="214.2" cy="370.9" r="2.2"/><circle cx="103.3" cy="380.8" r="2.2"/><circle cx="98.7" cy="376.8" r="2.2"/><circle cx="158.7" cy="377.7" r="2.2"/><circle cx="162.0" cy="382.3" r="2.2"/><circle cx="235.7" cy="379.6" r="2.2"/><circle cx="239.0" cy="372.2" r="2.2"/><circle cx="200.1" cy="393.3" r="2.2"/><circle cx="215.1" cy="396.6" r="2.2"/><circle cx="99.7" cy="401.5" r="2.2"/><circle cx="239.0" cy="401.5" r="2.2"/><circle cx="197.7" cy="407.7" r="2.2"/><circle cx="117.4" cy="425.1" r="2.2"/><circle cx="183.6" cy="425.1" r="2.2"/><circle cx="100.0" cy="433.0" r="2.2"/><circle cx="183.6" cy="436.1" r="2.2"/><circle cx="214.2" cy="433.9" r="2.2"/><circle cx="218.8" cy="432.6" r="2.2"/><circle cx="111.2" cy="444.5" r="2.2"/><circle cx="94.2" cy="453.2" r="2.2"/><circle cx="100.0" cy="460.1" r="2.2"/><circle cx="165.6" cy="458.3" r="2.2"/><circle cx="206.3" cy="453.2" r="2.2"/><circle cx="206.3" cy="457.7" r="2.2"/><circle cx="197.7" cy="460.1" r="2.2"/><circle cx="240.4" cy="443.6" r="2.2"/><circle cx="94.2" cy="467.8" r="2.2"/><circle cx="99.7" cy="477.0" r="2.2"/><circle cx="117.4" cy="481.9" r="2.2"/><circle cx="99.7" cy="488.5" r="2.2"/><circle cx="103.0" cy="493.8" r="2.2"/><circle cx="104.2" cy="500.4" r="2.2"/><circle cx="104.2" cy="510.3" r="2.2"/><circle cx="206.3" cy="473.3" r="2.2"/><circle cx="354.6" cy="296.2" r="2.2"/><circle cx="354.6" cy="317.2" r="2.2"/><circle cx="368.7" cy="325.5" r="2.2"/><circle cx="368.3" cy="355.7" r="2.2"/><circle cx="317.3" cy="363.1" r="2.2"/><circle cx="264.2" cy="374.6" r="2.2"/><circle cx="279.4" cy="375.9" r="2.2"/><circle cx="317.3" cy="380.1" r="2.2"/><circle cx="263.5" cy="386.9" r="2.2"/><circle cx="279.0" cy="407.7" r="2.2"/><circle cx="272.6" cy="415.6" r="2.2"/><circle cx="272.6" cy="421.6" r="2.2"/><circle cx="470.7" cy="353.1" r="2.2"/><circle cx="470.7" cy="381.3" r="2.2"/><circle cx="668.6" cy="415.1" r="2.2"/><circle cx="668.6" cy="453.2" r="2.2"/></g><g fill="none" stroke="#111" stroke-width="1.45"><path d="M186.6,10.9l5.0,5.0M186.6,15.9l5.0,-5.0"/><path d="M186.6,51.6l5.0,5.0M186.6,56.6l5.0,-5.0"/><path d="M231.3,116.3l5.0,5.0M231.3,121.3l5.0,-5.0"/><path d="M356.1,106.0l5.0,5.0M356.1,111.0l5.0,-5.0"/><path d="M356.1,114.8l5.0,5.0M356.1,119.8l5.0,-5.0"/><path d="M711.5,274.3l5.0,5.0M711.5,279.3l5.0,-5.0"/><path d="M356.1,136.7l5.0,5.0M356.1,141.7l5.0,-5.0"/><path d="M356.1,160.5l5.0,5.0M356.1,165.5l5.0,-5.0"/><path d="M125.8,143.1l5.0,5.0M125.8,148.1l5.0,-5.0"/><path d="M124.7,167.8l5.0,5.0M124.7,172.8l5.0,-5.0"/><path d="M125.8,168.2l5.0,5.0M125.8,173.2l5.0,-5.0"/><path d="M118.2,177.0l5.0,5.0M118.2,182.0l5.0,-5.0"/><path d="M123.7,181.6l5.0,5.0M123.7,186.6l5.0,-5.0"/><path d="M231.0,182.5l5.0,5.0M231.0,187.5l5.0,-5.0"/><path d="M162.6,182.5l5.0,5.0M162.6,187.5l5.0,-5.0"/><path d="M180.2,202.3l5.0,5.0M180.2,207.3l5.0,-5.0"/><path d="M176.9,221.9l5.0,5.0M176.9,226.9l5.0,-5.0"/><path d="M221.8,221.0l5.0,5.0M221.8,226.0l5.0,-5.0"/><path d="M219.0,241.5l5.0,5.0M219.0,246.5l5.0,-5.0"/><path d="M237.4,240.2l5.0,5.0M237.4,245.2l5.0,-5.0"/><path d="M133.8,252.5l5.0,5.0M133.8,257.5l5.0,-5.0"/><path d="M176.9,243.0l5.0,5.0M176.9,248.0l5.0,-5.0"/><path d="M182.4,248.1l5.0,5.0M182.4,253.1l5.0,-5.0"/><path d="M174.7,250.3l5.0,5.0M174.7,255.3l5.0,-5.0"/><path d="M99.9,260.9l5.0,5.0M99.9,265.9l5.0,-5.0"/><path d="M162.6,258.0l5.0,5.0M162.6,263.0l5.0,-5.0"/><path d="M162.6,261.3l5.0,5.0M162.6,266.3l5.0,-5.0"/><path d="M162.6,265.0l5.0,5.0M162.6,270.0l5.0,-5.0"/><path d="M132.0,269.8l5.0,5.0M132.0,274.8l5.0,-5.0"/><path d="M145.4,276.2l5.0,5.0M145.4,281.2l5.0,-5.0"/><path d="M174.7,272.6l5.0,5.0M174.7,277.6l5.0,-5.0"/><path d="M227.8,277.2l5.0,5.0M227.8,282.2l5.0,-5.0"/><path d="M227.8,288.2l5.0,5.0M227.8,293.2l5.0,-5.0"/><path d="M132.0,290.4l5.0,5.0M132.0,295.4l5.0,-5.0"/><path d="M145.4,295.5l5.0,5.0M145.4,300.5l5.0,-5.0"/><path d="M133.5,301.4l5.0,5.0M133.5,306.4l5.0,-5.0"/><path d="M176.9,291.8l5.0,5.0M176.9,296.8l5.0,-5.0"/><path d="M171.4,301.9l5.0,5.0M171.4,306.9l5.0,-5.0"/><path d="M219.0,295.1l5.0,5.0M219.0,300.1l5.0,-5.0"/><path d="M231.3,307.4l5.0,5.0M231.3,312.4l5.0,-5.0"/><path d="M162.6,319.9l5.0,5.0M162.6,324.9l5.0,-5.0"/><path d="M172.3,322.1l5.0,5.0M172.3,327.1l5.0,-5.0"/><path d="M187.0,322.1l5.0,5.0M187.0,327.1l5.0,-5.0"/><path d="M179.6,326.6l5.0,5.0M179.6,331.6l5.0,-5.0"/><path d="M201.6,323.0l5.0,5.0M201.6,328.0l5.0,-5.0"/><path d="M169.6,335.5l5.0,5.0M169.6,340.5l5.0,-5.0"/><path d="M172.3,335.5l5.0,5.0M172.3,340.5l5.0,-5.0"/><path d="M163.7,341.7l5.0,5.0M163.7,346.7l5.0,-5.0"/><path d="M184.2,338.0l5.0,5.0M184.2,343.0l5.0,-5.0"/><path d="M169.6,350.5l5.0,5.0M169.6,355.5l5.0,-5.0"/><path d="M221.4,340.9l5.0,5.0M221.4,345.9l5.0,-5.0"/><path d="M231.3,340.4l5.0,5.0M231.3,345.4l5.0,-5.0"/><path d="M97.2,345.0l5.0,5.0M97.2,350.0l5.0,-5.0"/><path d="M118.2,348.3l5.0,5.0M118.2,353.3l5.0,-5.0"/><path d="M96.2,359.6l5.0,5.0M96.2,364.6l5.0,-5.0"/><path d="M182.4,352.3l5.0,5.0M182.4,357.3l5.0,-5.0"/><path d="M157.3,354.7l5.0,5.0M157.3,359.7l5.0,-5.0"/><path d="M157.3,364.2l5.0,5.0M157.3,369.2l5.0,-5.0"/><path d="M145.7,367.0l5.0,5.0M145.7,372.0l5.0,-5.0"/><path d="M97.2,372.5l5.0,5.0M97.2,377.5l5.0,-5.0"/><path d="M131.1,374.3l5.0,5.0M131.1,379.3l5.0,-5.0"/><path d="M182.0,377.1l5.0,5.0M182.0,382.1l5.0,-5.0"/><path d="M204.9,378.9l5.0,5.0M204.9,383.9l5.0,-5.0"/><path d="M212.6,378.0l5.0,5.0M212.6,383.0l5.0,-5.0"/><path d="M231.3,376.5l5.0,5.0M231.3,381.5l5.0,-5.0"/><path d="M96.2,382.5l5.0,5.0M96.2,387.5l5.0,-5.0"/><path d="M241.6,381.6l5.0,5.0M241.6,386.6l5.0,-5.0"/><path d="M184.2,389.0l5.0,5.0M184.2,394.0l5.0,-5.0"/><path d="M185.7,396.7l5.0,5.0M185.7,401.7l5.0,-5.0"/><path d="M204.9,392.3l5.0,5.0M204.9,397.3l5.0,-5.0"/><path d="M163.7,396.3l5.0,5.0M163.7,401.3l5.0,-5.0"/><path d="M131.1,405.7l5.0,5.0M131.1,410.7l5.0,-5.0"/><path d="M191.9,408.5l5.0,5.0M191.9,413.5l5.0,-5.0"/><path d="M202.5,404.3l5.0,5.0M202.5,409.3l5.0,-5.0"/><path d="M224.5,416.4l5.0,5.0M224.5,421.4l5.0,-5.0"/><path d="M237.9,416.7l5.0,5.0M237.9,421.7l5.0,-5.0"/><path d="M240.1,411.2l5.0,5.0M240.1,416.2l5.0,-5.0"/><path d="M104.1,421.3l5.0,5.0M104.1,426.3l5.0,-5.0"/><path d="M202.5,421.3l5.0,5.0M202.5,426.3l5.0,-5.0"/><path d="M96.2,438.7l5.0,5.0M96.2,443.7l5.0,-5.0"/><path d="M124.7,433.2l5.0,5.0M124.7,438.2l5.0,-5.0"/><path d="M124.7,437.5l5.0,5.0M124.7,442.5l5.0,-5.0"/><path d="M132.4,435.6l5.0,5.0M132.4,440.6l5.0,-5.0"/><path d="M191.9,429.2l5.0,5.0M191.9,434.2l5.0,-5.0"/><path d="M221.8,436.9l5.0,5.0M221.8,441.9l5.0,-5.0"/><path d="M240.1,429.6l5.0,5.0M240.1,434.6l5.0,-5.0"/><path d="M155.3,447.5l5.0,5.0M155.3,452.5l5.0,-5.0"/><path d="M162.6,452.5l5.0,5.0M162.6,457.5l5.0,-5.0"/><path d="M162.6,458.9l5.0,5.0M162.6,463.9l5.0,-5.0"/><path d="M185.7,445.5l5.0,5.0M185.7,450.5l5.0,-5.0"/><path d="M201.6,441.1l5.0,5.0M201.6,446.1l5.0,-5.0"/><path d="M203.8,447.9l5.0,5.0M203.8,452.9l5.0,-5.0"/><path d="M221.8,456.5l5.0,5.0M221.8,461.5l5.0,-5.0"/><path d="M237.9,444.2l5.0,5.0M237.9,449.2l5.0,-5.0"/><path d="M96.8,472.6l5.0,5.0M96.8,477.6l5.0,-5.0"/><path d="M96.2,477.2l5.0,5.0M96.2,482.2l5.0,-5.0"/><path d="M132.0,476.3l5.0,5.0M132.0,481.3l5.0,-5.0"/><path d="M104.1,483.3l5.0,5.0M104.1,488.3l5.0,-5.0"/><path d="M211.7,479.4l5.0,5.0M211.7,484.4l5.0,-5.0"/><path d="M211.7,488.2l5.0,5.0M211.7,493.2l5.0,-5.0"/><path d="M231.3,482.7l5.0,5.0M231.3,487.7l5.0,-5.0"/><path d="M271.4,278.6l5.0,5.0M271.4,283.6l5.0,-5.0"/><path d="M246.3,335.5l5.0,5.0M246.3,340.5l5.0,-5.0"/><path d="M246.3,346.4l5.0,5.0M246.3,351.4l5.0,-5.0"/><path d="M271.4,333.1l5.0,5.0M271.4,338.1l5.0,-5.0"/><path d="M294.3,340.4l5.0,5.0M294.3,345.4l5.0,-5.0"/><path d="M294.3,345.3l5.0,5.0M294.3,350.3l5.0,-5.0"/><path d="M312.6,329.9l5.0,5.0M312.6,334.9l5.0,-5.0"/><path d="M358.1,335.5l5.0,5.0M358.1,340.5l5.0,-5.0"/><path d="M372.8,339.5l5.0,5.0M372.8,344.5l5.0,-5.0"/><path d="M372.8,352.7l5.0,5.0M372.8,357.7l5.0,-5.0"/><path d="M255.8,384.4l5.0,5.0M255.8,389.4l5.0,-5.0"/><path d="M358.1,385.7l5.0,5.0M358.1,390.7l5.0,-5.0"/><path d="M245.7,394.8l5.0,5.0M245.7,399.8l5.0,-5.0"/><path d="M243.0,398.1l5.0,5.0M243.0,403.1l5.0,-5.0"/><path d="M255.8,401.8l5.0,5.0M255.8,406.8l5.0,-5.0"/><path d="M312.6,397.8l5.0,5.0M312.6,402.8l5.0,-5.0"/><path d="M308.1,400.3l5.0,5.0M308.1,405.3l5.0,-5.0"/><path d="M244.5,401.5l5.0,5.0M244.5,406.5l5.0,-5.0"/><path d="M241.2,411.8l5.0,5.0M241.2,416.8l5.0,-5.0"/><path d="M308.4,414.0l5.0,5.0M308.4,419.0l5.0,-5.0"/><path d="M241.2,429.0l5.0,5.0M241.2,434.0l5.0,-5.0"/><path d="M246.7,440.0l5.0,5.0M246.7,445.0l5.0,-5.0"/><path d="M243.9,451.0l5.0,5.0M243.9,456.0l5.0,-5.0"/><path d="M314.8,440.0l5.0,5.0M314.8,445.0l5.0,-5.0"/><path d="M314.8,457.1l5.0,5.0M314.8,462.1l5.0,-5.0"/><path d="M449.7,308.8l5.0,5.0M449.7,313.8l5.0,-5.0"/><path d="M449.7,316.1l5.0,5.0M449.7,321.1l5.0,-5.0"/><path d="M431.0,347.3l5.0,5.0M431.0,352.3l5.0,-5.0"/><path d="M442.0,350.6l5.0,5.0M442.0,355.6l5.0,-5.0"/><path d="M506.1,368.9l5.0,5.0M506.1,373.9l5.0,-5.0"/><path d="M441.6,381.1l5.0,5.0M441.6,386.1l5.0,-5.0"/><path d="M448.9,381.1l5.0,5.0M448.9,386.1l5.0,-5.0"/><path d="M431.0,386.6l5.0,5.0M431.0,391.6l5.0,-5.0"/><path d="M533.2,393.1l5.0,5.0M533.2,398.1l5.0,-5.0"/><path d="M448.5,408.6l5.0,5.0M448.5,413.6l5.0,-5.0"/><path d="M488.9,409.6l5.0,5.0M488.9,414.6l5.0,-5.0"/><path d="M506.4,410.5l5.0,5.0M506.4,415.5l5.0,-5.0"/><path d="M537.7,421.0l5.0,5.0M537.7,426.0l5.0,-5.0"/><path d="M538.1,421.4l5.0,5.0M538.1,426.4l5.0,-5.0"/><path d="M519.3,426.7l5.0,5.0M519.3,431.7l5.0,-5.0"/><path d="M488.9,433.3l5.0,5.0M488.9,438.3l5.0,-5.0"/><path d="M519.3,437.1l5.0,5.0M519.3,442.1l5.0,-5.0"/><path d="M533.3,434.6l5.0,5.0M533.3,439.6l5.0,-5.0"/><path d="M446.6,445.6l5.0,5.0M446.6,450.6l5.0,-5.0"/><path d="M446.6,466.1l5.0,5.0M446.6,471.1l5.0,-5.0"/><path d="M714.1,314.7l5.0,5.0M714.1,319.7l5.0,-5.0"/><path d="M644.5,318.9l5.0,5.0M644.5,323.9l5.0,-5.0"/><path d="M620.7,331.7l5.0,5.0M620.7,336.7l5.0,-5.0"/><path d="M620.7,335.4l5.0,5.0M620.7,340.4l5.0,-5.0"/><path d="M644.5,342.7l5.0,5.0M644.5,347.7l5.0,-5.0"/><path d="M602.0,375.7l5.0,5.0M602.0,380.7l5.0,-5.0"/><path d="M632.2,374.4l5.0,5.0M632.2,379.4l5.0,-5.0"/><path d="M575.8,392.1l5.0,5.0M575.8,397.1l5.0,-5.0"/><path d="M678.0,390.9l5.0,5.0M678.0,395.9l5.0,-5.0"/><path d="M576.1,406.1l5.0,5.0M576.1,411.1l5.0,-5.0"/><path d="M602.3,413.6l5.0,5.0M602.3,418.6l5.0,-5.0"/><path d="M632.5,431.1l5.0,5.0M632.5,436.1l5.0,-5.0"/><path d="M647.8,419.5l5.0,5.0M647.8,424.5l5.0,-5.0"/><path d="M647.8,423.4l5.0,5.0M647.8,428.4l5.0,-5.0"/><path d="M678.2,400.8l5.0,5.0M678.2,405.8l5.0,-5.0"/><path d="M707.7,417.9l5.0,5.0M707.7,422.9l5.0,-5.0"/><path d="M714.2,421.9l5.0,5.0M714.2,426.9l5.0,-5.0"/><path d="M707.7,445.4l5.0,5.0M707.7,450.4l5.0,-5.0"/><path d="M712.0,465.0l5.0,5.0M712.0,470.0l5.0,-5.0"/></g><rect x="892.8" y="10.5" width="635.4" height="527.8" fill="none" stroke="#a9a9a9" stroke-width="1.4"/><path d="M881.8,530.8h11.0M887.3,510.9h5.5M887.3,491.0h5.5M887.3,471.1h5.5M887.3,451.2h5.5M887.3,431.3h5.5M881.8,411.4h11.0M887.3,391.6h5.5M887.3,371.7h5.5M887.3,351.8h5.5M887.3,331.9h5.5M887.3,312.0h5.5M881.8,292.1h11.0M887.3,272.2h5.5M887.3,252.3h5.5M887.3,232.4h5.5M887.3,212.5h5.5M887.3,192.6h5.5M881.8,172.8h11.0M887.3,152.9h5.5M887.3,133.0h5.5M887.3,113.1h5.5M887.3,93.2h5.5M887.3,73.3h5.5M881.8,53.4h11.0M887.3,33.5h5.5M899.3,538.3v11.0M919.6,538.3v5.5M940.0,538.3v5.5M960.3,538.3v5.5M980.7,538.3v5.5M1001.0,538.3v11.0M1021.3,538.3v5.5M1041.7,538.3v5.5M1062.0,538.3v5.5M1082.4,538.3v5.5M1102.7,538.3v11.0M1123.0,538.3v5.5M1143.4,538.3v5.5M1163.7,538.3v5.5M1184.1,538.3v5.5M1204.4,538.3v11.0M1224.7,538.3v5.5M1245.1,538.3v5.5M1265.4,538.3v5.5M1285.8,538.3v5.5M1306.1,538.3v11.0M1326.4,538.3v5.5M1346.8,538.3v5.5M1367.1,538.3v5.5M1387.5,538.3v5.5M1407.8,538.3v11.0M1428.1,538.3v5.5M1448.5,538.3v5.5M1468.8,538.3v5.5M1489.2,538.3v5.5M1509.5,538.3v11.0" stroke="#a9a9a9" stroke-width="1.4" fill="none"/><text x="873.5" y="538.6" text-anchor="end" font-size="23.2" font-family="Liberation Serif, Times New Roman, serif">0</text><text x="873.5" y="419.2" text-anchor="end" font-size="23.2" font-family="Liberation Serif, Times New Roman, serif">1</text><text x="873.5" y="299.9" text-anchor="end" font-size="23.2" font-family="Liberation Serif, Times New Roman, serif">2</text><text x="873.5" y="180.6" text-anchor="end" font-size="23.2" font-family="Liberation Serif, Times New Roman, serif">3</text><text x="873.5" y="61.2" text-anchor="end" font-size="23.2" font-family="Liberation Serif, Times New Roman, serif">4</text><text x="899.3" y="577.8" text-anchor="middle" font-size="23.2" font-family="Liberation Serif, Times New Roman, serif">0</text><text x="1001.0" y="577.8" text-anchor="middle" font-size="23.2" font-family="Liberation Serif, Times New Roman, serif">10</text><text x="1102.7" y="577.8" text-anchor="middle" font-size="23.2" font-family="Liberation Serif, Times New Roman, serif">20</text><text x="1204.4" y="577.8" text-anchor="middle" font-size="23.2" font-family="Liberation Serif, Times New Roman, serif">30</text><text x="1306.1" y="577.8" text-anchor="middle" font-size="23.2" font-family="Liberation Serif, Times New Roman, serif">40</text><text x="1407.8" y="577.8" text-anchor="middle" font-size="23.2" font-family="Liberation Serif, Times New Roman, serif">50</text><text x="1509.5" y="577.8" text-anchor="middle" font-size="23.2" font-family="Liberation Serif, Times New Roman, serif">60</text><text x="1209.0" y="617.8" text-anchor="middle" font-size="22.2" font-family="Liberation Serif, Times New Roman, serif">Age (years)</text><text transform="translate(830.5,274.3) rotate(-90)" text-anchor="middle" font-size="22.8" font-family="Liberation Serif, Times New Roman, serif">BC c-VEMP amplitude ratio</text><text x="1391" y="70.5" font-size="54.5" stroke="#000" stroke-width="0.5" font-family="Liberation Serif, Times New Roman, serif">BC</text><path d="M904.0,290.0 L906.9,288.7 L909.7,287.4 L912.7,286.2 L915.7,285.2 L918.7,284.2 L921.7,283.3 L924.8,282.5 L927.8,281.8 L930.9,281.2 L934.0,280.7 L937.1,280.4 L940.2,280.1 L943.3,279.9 L946.4,279.9 L949.4,279.9 L952.4,280.1 L955.4,280.4 L958.4,280.8 L961.3,281.4 L964.2,282.0 L967.0,282.8 L969.7,283.7 L972.4,284.8 L975.1,286.0 L977.6,287.2 L980.2,288.6 L982.6,290.2 L985.0,291.7 L987.4,293.4 L989.8,295.2 L992.1,297.0 L994.3,298.9 L996.6,300.9 L998.8,302.9 L1001.1,304.9 L1003.3,306.9 L1005.5,309.0 L1007.7,311.1 L1009.9,313.2 L1012.1,315.3 L1014.3,317.4 L1016.6,319.5 L1018.8,321.5 L1021.1,323.6 L1023.4,325.6 L1025.6,327.6 L1027.9,329.6 L1030.3,331.6 L1032.6,333.6 L1034.9,335.6 L1037.3,337.5 L1039.6,339.5 L1042.0,341.4 L1044.4,343.3 L1046.8,345.1 L1049.2,347.0 L1051.6,348.8 L1054.1,350.7 L1056.5,352.4 L1059.0,354.2 L1061.4,356.0 L1063.9,357.7 L1066.4,359.4 L1068.9,361.1 L1071.5,362.7 L1074.0,364.3 L1076.6,365.9 L1079.1,367.5 L1081.7,369.1 L1084.3,370.6 L1086.9,372.1 L1089.6,373.5 L1092.2,374.9 L1094.9,376.3 L1097.5,377.7 L1100.2,379.0 L1102.9,380.3 L1105.6,381.6 L1108.3,382.8 L1111.1,384.0 L1113.8,385.1 L1116.6,386.3 L1119.4,387.3 L1122.2,388.4 L1125.0,389.4 L1127.8,390.3 L1130.7,391.3 L1133.5,392.2 L1136.4,393.0 L1139.3,393.9 L1142.2,394.7 L1145.1,395.4 L1148.0,396.1 L1150.9,396.8 L1153.8,397.5 L1156.8,398.1 L1159.7,398.7 L1162.7,399.2 L1165.7,399.8 L1168.7,400.3 L1171.7,400.7 L1174.6,401.2 L1177.7,401.6 L1180.7,402.0 L1183.7,402.3 L1186.7,402.6 L1189.7,402.9 L1192.8,403.2 L1195.8,403.4 L1198.8,403.6 L1201.9,403.8 L1204.9,404.0 L1208.0,404.1 L1211.0,404.2 L1214.1,404.3 L1217.1,404.4 L1220.2,404.4 L1223.3,404.4 L1226.3,404.4 L1229.4,404.3 L1232.4,404.3 L1235.5,404.2 L1238.5,404.1 L1241.6,404.0 L1244.7,403.8 L1247.7,403.7 L1250.8,403.5 L1253.8,403.3 L1256.8,403.1 L1259.9,402.8 L1262.9,402.6 L1265.9,402.3 L1269.0,402.0 L1272.0,401.7 L1275.0,401.4 L1278.0,401.0 L1281.0,400.7 L1284.0,400.3 L1287.0,399.9 L1290.0,399.5 L1293.0,399.0 L1295.9,398.6 L1298.9,398.1 L1301.9,397.7 L1304.8,397.2 L1307.8,396.7 L1310.8,396.2 L1313.7,395.6 L1316.7,395.1 L1319.6,394.5 L1322.6,394.0 L1325.5,393.4 L1328.4,392.8 L1331.4,392.2 L1334.3,391.5 L1337.2,390.9 L1340.2,390.2 L1343.1,389.6 L1346.0,388.9 L1348.9,388.2 L1351.8,387.5 L1354.8,386.8 L1357.7,386.1 L1360.6,385.3 L1363.5,384.6 L1366.4,383.8 L1369.3,383.1 L1372.2,382.3 L1375.1,381.5 L1378.0,380.7 L1380.9,379.9 L1383.8,379.1 L1386.7,378.3 L1389.6,377.4 L1392.5,376.6 L1395.4,375.7 L1398.2,374.9 L1401.1,374.0 L1404.0,373.1 L1406.9,372.2 L1409.8,371.3 L1412.7,370.4 L1415.6,369.5 L1418.5,368.6 L1421.3,367.7 L1424.2,366.8 L1427.1,365.8 L1430.0,364.9 L1432.9,363.9 L1435.8,363.0 L1438.7,362.0 L1441.6,361.1 L1444.5,360.1 L1447.3,359.1 L1450.2,358.1 L1453.1,357.1 L1456.0,356.2 L1458.9,355.2 L1461.8,354.2 L1464.7,353.2 L1467.6,352.2" stroke="#3838f4" stroke-width="4.4" fill="none" stroke-linejoin="round"/><path d="M904.0,320.8 L907.0,319.1 L909.9,317.5 L912.9,316.0 L915.9,314.8 L919.0,313.7 L922.0,312.7 L925.0,311.9 L928.0,311.3 L931.1,310.8 L934.1,310.5 L937.1,310.3 L940.0,310.3 L943.0,310.4 L945.9,310.7 L948.8,311.1 L951.7,311.6 L954.5,312.3 L957.3,313.1 L960.0,314.0 L962.6,315.0 L965.3,316.2 L967.8,317.5 L970.3,318.9 L972.7,320.4 L975.1,322.1 L977.3,323.8 L979.6,325.6 L981.8,327.5 L983.9,329.5 L986.0,331.6 L988.0,333.8 L990.1,336.0 L992.0,338.2 L994.0,340.6 L995.9,342.9 L997.8,345.3 L999.7,347.8 L1001.6,350.2 L1003.5,352.7 L1005.3,355.2 L1007.2,357.7 L1009.1,360.2 L1011.0,362.7 L1012.9,365.2 L1014.8,367.7 L1016.7,370.2 L1018.7,372.6 L1020.7,375.0 L1022.7,377.4 L1024.7,379.7 L1026.8,382.0 L1028.8,384.3 L1031.0,386.5 L1033.1,388.6 L1035.3,390.7 L1037.5,392.7 L1039.8,394.6 L1042.1,396.5 L1044.4,398.3 L1046.8,400.1 L1049.2,401.7 L1051.7,403.3 L1054.2,404.7 L1056.7,406.1 L1059.3,407.4 L1062.0,408.6 L1064.7,409.7 L1067.4,410.7 L1070.2,411.6 L1073.0,412.4 L1075.8,413.2 L1078.7,413.9 L1081.6,414.5 L1084.6,415.0 L1087.5,415.5 L1090.5,416.0 L1093.5,416.4 L1096.5,416.7 L1099.6,417.0 L1102.6,417.3 L1105.7,417.5 L1108.7,417.8 L1111.8,418.0 L1114.9,418.1 L1117.9,418.3 L1121.0,418.5 L1124.1,418.6 L1127.1,418.8 L1130.2,418.9 L1133.2,419.1 L1136.3,419.2 L1139.3,419.4 L1142.4,419.6 L1145.4,419.7 L1148.4,419.9 L1151.4,420.0 L1154.5,420.2 L1157.5,420.4 L1160.5,420.6 L1163.5,420.7 L1166.5,420.9 L1169.5,421.2 L1172.5,421.4 L1175.5,421.6 L1178.5,421.9 L1181.5,422.2 L1184.4,422.4 L1187.4,422.8 L1190.4,423.1 L1193.4,423.4 L1196.3,423.8 L1199.3,424.2 L1202.2,424.6 L1205.2,425.0 L1208.1,425.5 L1211.1,426.0 L1214.0,426.5 L1217.0,427.1 L1219.9,427.6 L1222.8,428.2 L1225.8,428.9 L1228.7,429.5 L1231.6,430.2 L1234.5,430.9 L1237.4,431.7 L1240.3,432.4 L1243.2,433.2 L1246.1,434.0 L1249.0,434.9 L1251.9,435.7 L1254.8,436.6 L1257.7,437.5 L1260.5,438.4 L1263.4,439.3 L1266.3,440.3 L1269.2,441.2 L1272.0,442.2 L1274.9,443.2 L1277.8,444.2 L1280.6,445.2 L1283.5,446.2 L1286.3,447.3 L1289.2,448.3 L1292.0,449.4 L1294.9,450.5 L1297.7,451.5 L1300.5,452.6 L1303.4,453.7 L1306.2,454.8 L1309.0,455.9 L1311.9,457.0 L1314.7,458.1 L1317.5,459.2 L1320.3,460.3 L1323.1,461.4 L1325.9,462.5 L1328.8,463.6 L1331.6,464.7 L1334.4,465.8 L1337.2,467.0 L1340.0,468.1 L1342.8,469.2 L1345.6,470.3 L1348.4,471.4 L1351.2,472.5 L1354.0,473.6 L1356.8,474.7 L1359.6,475.8 L1362.4,476.9 L1365.2,478.0 L1368.0,479.1 L1370.8,480.2 L1373.7,481.3 L1376.5,482.4 L1379.3,483.5 L1382.1,484.6 L1384.9,485.6 L1387.7,486.7 L1390.5,487.7 L1393.3,488.8 L1396.1,489.9 L1398.9,490.9 L1401.8,491.9 L1404.6,493.0 L1407.4,494.0 L1410.2,495.0 L1413.1,496.0 L1415.9,497.0 L1418.7,498.0 L1421.6,499.0 L1424.4,499.9 L1427.2,500.9 L1430.1,501.8 L1432.9,502.8 L1435.8,503.7 L1438.7,504.6 L1441.5,505.5 L1444.4,506.4 L1447.3,507.3 L1450.1,508.2 L1453.0,509.1 L1455.9,509.9 L1458.8,510.7 L1461.7,511.6 L1464.6,512.4 L1467.5,513.2 L1470.4,513.9 L1473.3,514.7 L1476.2,515.5 L1479.2,516.2 L1482.1,516.9 L1485.0,517.6 L1488.0,518.3 L1490.9,519.0 L1493.9,519.7 L1496.9,520.3 L1499.8,520.9 L1502.8,521.5 L1505.8,522.1 L1508.8,522.7 L1511.8,523.2 L1514.8,523.8 L1517.8,524.3" stroke="#ff3a3a" stroke-width="4.4" fill="none" stroke-linejoin="round"/><path d="M904.9,134.7 L906.2,131.8 L907.4,128.9 L908.6,126.0 L909.9,123.2 L911.1,120.4 L912.3,117.6 L913.6,114.9 L914.8,112.2 L916.0,109.5 L917.3,106.8 L918.5,104.2 L919.7,101.5 L921.0,98.9 L922.2,96.3 L923.5,93.6 L924.7,91.0 L926.0,88.3 L927.3,85.7 L928.5,83.0 L929.8,80.3 L931.1,77.6 L932.4,74.8 L933.7,72.1 L935.0,69.3 L936.3,66.4 L937.7,63.5 L939.0,60.6 L940.4,57.7 L941.8,54.8 L943.3,52.0 L944.9,49.2 L946.5,46.6 L948.3,44.0 L950.1,41.6 L952.1,39.4 L954.3,37.4 L956.6,35.7 L959.1,34.1 L961.8,32.9 L964.6,31.9 L967.6,31.3 L970.6,30.9 L973.6,30.8 L976.7,30.9 L979.6,31.4 L982.5,32.1 L985.1,33.1 L987.6,34.4 L989.9,35.9 L992.1,37.7 L994.1,39.7 L996.0,41.8 L997.7,44.1 L999.4,46.6 L1001.0,49.1 L1002.5,51.7 L1004.0,54.4 L1005.5,57.1 L1006.9,59.8 L1008.4,62.5 L1009.9,65.2 L1011.3,67.9 L1012.8,70.6 L1014.3,73.3 L1015.8,75.9 L1017.2,78.6 L1018.7,81.3 L1020.2,84.0 L1021.6,86.7 L1023.1,89.4 L1024.6,92.1 L1026.1,94.7 L1027.6,97.4 L1029.1,100.1 L1030.6,102.7 L1032.1,105.4 L1033.6,108.0 L1035.1,110.7 L1036.6,113.3 L1038.1,116.0 L1039.7,118.6 L1041.2,121.2 L1042.7,123.8 L1044.3,126.5 L1045.8,129.1 L1047.4,131.7 L1049.0,134.2 L1050.6,136.8 L1052.1,139.4 L1053.7,142.0 L1055.4,144.5 L1057.0,147.1 L1058.6,149.6 L1060.2,152.1 L1061.9,154.7 L1063.6,157.2 L1065.2,159.7 L1066.9,162.2 L1068.6,164.6 L1070.3,167.1 L1072.1,169.6 L1073.8,172.0 L1075.5,174.4 L1077.3,176.9 L1079.1,179.3 L1080.9,181.7 L1082.7,184.1 L1084.5,186.4 L1086.3,188.8 L1088.2,191.1 L1090.1,193.5 L1092.0,195.8 L1093.9,198.1 L1095.8,200.4 L1097.7,202.6 L1099.7,204.9 L1101.7,207.1 L1103.7,209.3 L1105.7,211.6 L1107.7,213.7 L1109.8,215.9 L1111.8,218.1 L1113.9,220.2 L1116.0,222.3 L1118.2,224.4 L1120.3,226.5 L1122.5,228.6 L1124.7,230.7 L1126.9,232.7 L1129.1,234.7 L1131.4,236.7 L1133.7,238.7 L1136.0,240.6 L1138.3,242.6 L1140.6,244.5 L1142.9,246.4 L1145.3,248.3 L1147.7,250.1 L1150.1,252.0 L1152.5,253.8 L1154.9,255.6 L1157.3,257.4 L1159.8,259.2 L1162.3,260.9 L1164.8,262.6 L1167.3,264.3 L1169.8,266.0 L1172.3,267.7 L1174.9,269.3 L1177.5,270.9 L1180.0,272.5 L1182.6,274.1 L1185.2,275.7 L1187.9,277.2 L1190.5,278.7 L1193.1,280.2 L1195.8,281.7 L1198.5,283.1 L1201.1,284.5 L1203.8,285.9 L1206.5,287.3 L1209.2,288.7 L1212.0,290.0 L1214.7,291.3 L1217.5,292.6 L1220.2,293.9 L1223.0,295.1 L1225.8,296.3 L1228.5,297.5 L1231.3,298.7 L1234.1,299.8 L1237.0,300.9 L1239.8,302.0 L1242.6,303.1 L1245.4,304.2 L1248.3,305.2 L1251.1,306.2 L1254.0,307.1 L1256.9,308.1 L1259.7,309.0 L1262.6,309.9 L1265.5,310.8 L1268.4,311.6 L1271.3,312.5 L1274.2,313.3 L1277.1,314.0 L1280.0,314.8 L1282.9,315.5 L1285.8,316.2 L1288.7,316.9 L1291.7,317.5 L1294.6,318.2 L1297.5,318.8 L1300.5,319.4 L1303.4,319.9 L1306.4,320.5 L1309.3,321.0 L1312.3,321.5 L1315.3,322.0 L1318.2,322.5 L1321.2,323.0 L1324.2,323.4 L1327.2,323.8 L1330.1,324.2 L1333.1,324.6 L1336.1,325.0 L1339.1,325.4 L1342.1,325.7 L1345.1,326.0 L1348.1,326.4 L1351.1,326.7 L1354.1,327.0 L1357.1,327.3 L1360.1,327.5 L1363.1,327.8 L1366.1,328.0 L1369.1,328.3 L1372.1,328.5 L1375.1,328.7 L1378.1,329.0 L1381.2,329.2 L1384.2,329.4 L1387.2,329.6 L1390.2,329.8 L1393.2,329.9 L1396.3,330.1 L1399.3,330.3 L1402.3,330.4 L1405.3,330.6 L1408.3,330.8 L1411.4,330.9 L1414.4,331.1 L1417.4,331.2 L1420.4,331.4 L1423.4,331.5 L1426.5,331.7 L1429.5,331.8 L1432.5,332.0 L1435.5,332.1 L1438.5,332.3 L1441.5,332.4 L1444.5,332.6 L1447.6,332.7 L1450.6,332.9 L1453.6,333.1 L1456.6,333.2 L1459.6,333.4 L1462.6,333.6 L1465.6,333.8 L1468.6,333.9" stroke="#0a0aff" stroke-width="2.9" fill="none" stroke-dasharray="4.2 4.5"/><path d="M904.0,54.3 L906.1,56.5 L908.2,58.8 L910.2,61.0 L912.3,63.3 L914.3,65.5 L916.4,67.8 L918.4,70.0 L920.4,72.3 L922.4,74.6 L924.4,76.8 L926.3,79.1 L928.3,81.4 L930.2,83.7 L932.2,86.0 L934.1,88.3 L936.0,90.6 L937.9,92.9 L939.8,95.2 L941.7,97.6 L943.5,99.9 L945.4,102.2 L947.2,104.6 L949.0,107.0 L950.8,109.4 L952.6,111.8 L954.4,114.2 L956.2,116.6 L958.0,119.0 L959.7,121.4 L961.5,123.9 L963.2,126.4 L964.9,128.8 L966.6,131.3 L968.3,133.8 L970.0,136.4 L971.7,138.9 L973.3,141.4 L975.0,144.0 L976.6,146.5 L978.3,149.1 L980.0,151.7 L981.6,154.2 L983.3,156.8 L984.9,159.4 L986.6,161.9 L988.2,164.5 L989.9,167.1 L991.6,169.6 L993.3,172.1 L995.0,174.7 L996.7,177.2 L998.4,179.7 L1000.2,182.2 L1002.0,184.7 L1003.8,187.1 L1005.6,189.5 L1007.4,192.0 L1009.3,194.3 L1011.2,196.7 L1013.1,199.0 L1015.0,201.4 L1017.0,203.6 L1019.0,205.9 L1021.1,208.1 L1023.2,210.3 L1025.3,212.4 L1027.4,214.5 L1029.6,216.6 L1031.8,218.6 L1034.1,220.6 L1036.4,222.6 L1038.7,224.5 L1041.1,226.3 L1043.5,228.1 L1045.9,229.9 L1048.3,231.6 L1050.8,233.2 L1053.3,234.8 L1055.9,236.4 L1058.5,237.9 L1061.1,239.3 L1063.7,240.7 L1066.4,242.0 L1069.0,243.3 L1071.7,244.5 L1074.5,245.6 L1077.2,246.7 L1080.0,247.7 L1082.8,248.6 L1085.7,249.5 L1088.5,250.3 L1091.4,251.0 L1094.3,251.7 L1097.2,252.3 L1100.2,252.9 L1103.1,253.4 L1106.1,253.9 L1109.1,254.4 L1112.1,254.8 L1115.1,255.2 L1118.1,255.6 L1121.1,255.9 L1124.1,256.2 L1127.2,256.5 L1130.2,256.8 L1133.3,257.1 L1136.3,257.4 L1139.4,257.7 L1142.4,258.0 L1145.5,258.2 L1148.5,258.5 L1151.5,258.9 L1154.6,259.2 L1157.6,259.5 L1160.6,259.9 L1163.7,260.3 L1166.7,260.7 L1169.7,261.1 L1172.7,261.6 L1175.7,262.0 L1178.7,262.5 L1181.6,263.0 L1184.6,263.6 L1187.6,264.1 L1190.6,264.7 L1193.5,265.2 L1196.5,265.8 L1199.4,266.5 L1202.4,267.1 L1205.3,267.7 L1208.2,268.4 L1211.2,269.1 L1214.1,269.8 L1217.0,270.5 L1219.9,271.3 L1222.8,272.0 L1225.7,272.8 L1228.6,273.6 L1231.5,274.4 L1234.4,275.2 L1237.3,276.0 L1240.2,276.8 L1243.1,277.7 L1245.9,278.6 L1248.8,279.5 L1251.7,280.4 L1254.5,281.3 L1257.4,282.2 L1260.2,283.1 L1263.1,284.1 L1265.9,285.0 L1268.8,286.0 L1271.6,287.0 L1274.4,288.0 L1277.2,289.0 L1280.1,290.0 L1282.9,291.1 L1285.7,292.1 L1288.5,293.2 L1291.3,294.3 L1294.1,295.3 L1296.9,296.4 L1299.7,297.5 L1302.5,298.6 L1305.3,299.7 L1308.1,300.9 L1310.9,302.0 L1313.7,303.1 L1316.5,304.3 L1319.3,305.5 L1322.0,306.6 L1324.8,307.8 L1327.6,309.0 L1330.4,310.2 L1333.1,311.4 L1335.9,312.6 L1338.7,313.8 L1341.4,315.0 L1344.2,316.2 L1346.9,317.5 L1349.7,318.7 L1352.5,319.9 L1355.2,321.2 L1358.0,322.4 L1360.7,323.7 L1363.5,325.0 L1366.2,326.2 L1368.9,327.5 L1371.7,328.8 L1374.4,330.1 L1377.2,331.3 L1379.9,332.6 L1382.6,333.9 L1385.4,335.2 L1388.1,336.5 L1390.9,337.8 L1393.6,339.1 L1396.3,340.4 L1399.1,341.7 L1401.8,343.0 L1404.5,344.3 L1407.3,345.6 L1410.0,346.9 L1412.7,348.2 L1415.4,349.5 L1418.2,350.8 L1420.9,352.1 L1423.6,353.4 L1426.4,354.7 L1429.1,356.1 L1431.8,357.4 L1434.5,358.7 L1437.3,360.0 L1440.0,361.3 L1442.7,362.6 L1445.5,363.9 L1448.2,365.1 L1450.9,366.4 L1453.7,367.7 L1456.4,369.0 L1459.1,370.3 L1461.9,371.6 L1464.6,372.8 L1467.3,374.1 L1470.1,375.4 L1472.8,376.6 L1475.5,377.9 L1478.3,379.1 L1481.0,380.4 L1483.8,381.6 L1486.5,382.9 L1489.3,384.1 L1492.0,385.3 L1494.8,386.5 L1497.5,387.8 L1500.3,389.0 L1503.0,390.2 L1505.8,391.3 L1508.5,392.5 L1511.3,393.7 L1514.0,394.9 L1516.8,396.0 L1519.6,397.2" stroke="#ff1010" stroke-width="2.9" fill="none" stroke-dasharray="4.2 4.5"/><path d="M902.5,487.7 L903.4,483.9 L904.5,480.4 L905.7,477.1 L907.1,474.1 L908.6,471.2 L910.3,468.6 L912.1,466.2 L914.0,464.0 L916.0,461.9 L918.2,460.0 L920.4,458.4 L922.8,456.9 L925.2,455.5 L927.8,454.3 L930.4,453.3 L933.0,452.4 L935.7,451.6 L938.5,451.0 L941.3,450.5 L944.1,450.2 L947.0,449.9 L949.9,449.8 L952.8,449.7 L955.8,449.8 L958.8,449.9 L961.8,450.1 L964.8,450.4 L967.8,450.7 L970.8,451.1 L973.9,451.6 L977.0,452.1 L980.0,452.6 L983.1,453.1 L986.2,453.7 L989.2,454.3 L992.3,454.9 L995.3,455.4 L998.4,456.0 L1001.4,456.6 L1004.4,457.1 L1007.5,457.7 L1010.5,458.3 L1013.5,458.8 L1016.5,459.4 L1019.5,459.9 L1022.5,460.5 L1025.5,461.0 L1028.5,461.5 L1031.5,462.0 L1034.4,462.5 L1037.4,463.0 L1040.4,463.5 L1043.4,464.0 L1046.3,464.4 L1049.3,464.9 L1052.3,465.3 L1055.2,465.8 L1058.2,466.2 L1061.1,466.6 L1064.1,467.0 L1067.1,467.4 L1070.0,467.7 L1073.0,468.1 L1075.9,468.4 L1078.9,468.7 L1081.9,469.0 L1084.8,469.3 L1087.8,469.6 L1090.8,469.8 L1093.7,470.1 L1096.7,470.3 L1099.7,470.5 L1102.7,470.6 L1105.7,470.8 L1108.7,470.9 L1111.6,471.0 L1114.6,471.1 L1117.6,471.2 L1120.6,471.2 L1123.6,471.3 L1126.6,471.3 L1129.6,471.3 L1132.7,471.3 L1135.7,471.2 L1138.7,471.2 L1141.7,471.1 L1144.7,471.0 L1147.7,470.9 L1150.7,470.8 L1153.8,470.6 L1156.8,470.4 L1159.8,470.3 L1162.8,470.1 L1165.8,469.8 L1168.8,469.6 L1171.9,469.4 L1174.9,469.1 L1177.9,468.8 L1180.9,468.5 L1183.9,468.2 L1187.0,467.9 L1190.0,467.5 L1193.0,467.2 L1196.0,466.8 L1199.0,466.4 L1202.0,466.0 L1205.0,465.5 L1208.1,465.1 L1211.1,464.6 L1214.1,464.2 L1217.1,463.7 L1220.1,463.2 L1223.1,462.7 L1226.1,462.1 L1229.1,461.6 L1232.0,461.0 L1235.0,460.5 L1238.0,459.9 L1241.0,459.3 L1244.0,458.7 L1246.9,458.0 L1249.9,457.4 L1252.9,456.8 L1255.8,456.1 L1258.8,455.4 L1261.7,454.7 L1264.7,454.0 L1267.6,453.3 L1270.6,452.6 L1273.5,451.8 L1276.4,451.1 L1279.4,450.3 L1282.3,449.5 L1285.2,448.7 L1288.1,447.9 L1291.0,447.1 L1293.9,446.3 L1296.8,445.5 L1299.7,444.6 L1302.5,443.7 L1305.4,442.9 L1308.3,441.9 L1311.1,441.0 L1314.0,440.1 L1316.8,439.2 L1319.6,438.2 L1322.5,437.2 L1325.3,436.2 L1328.1,435.2 L1330.9,434.1 L1333.7,433.1 L1336.5,432.0 L1339.3,430.9 L1342.0,429.8 L1344.8,428.6 L1347.6,427.5 L1350.3,426.3 L1353.0,425.1 L1355.8,423.8 L1358.5,422.6 L1361.2,421.3 L1363.9,420.0 L1366.6,418.6 L1369.3,417.3 L1371.9,415.9 L1374.6,414.5 L1377.3,413.1 L1379.9,411.6 L1382.5,410.1 L1385.1,408.6 L1387.8,407.0 L1390.4,405.5 L1393.0,403.9 L1395.5,402.3 L1398.1,400.7 L1400.7,399.1 L1403.3,397.4 L1405.9,395.8 L1408.4,394.2 L1411.0,392.5 L1413.6,390.9 L1416.2,389.3 L1418.8,387.7 L1421.4,386.1 L1424.0,384.5 L1426.6,383.0 L1429.2,381.4 L1431.8,379.9 L1434.5,378.5 L1437.1,377.0 L1439.8,375.6 L1442.5,374.3 L1445.2,372.9 L1447.9,371.6 L1450.6,370.4 L1453.4,369.2 L1456.2,368.1 L1459.0,367.0 L1461.8,366.0 L1464.6,365.1 L1467.5,364.2" stroke="#0a0aff" stroke-width="2.9" fill="none" stroke-dasharray="4.2 4.5"/><path d="M904.8,480.7 L906.8,479.2 L908.9,477.5 L911.1,475.6 L913.3,473.7 L915.6,471.7 L917.9,469.6 L920.3,467.4 L922.8,465.3 L925.2,463.1 L927.8,461.0 L930.3,458.9 L932.9,456.8 L935.6,454.9 L938.2,453.1 L940.9,451.4 L943.6,449.9 L946.3,448.5 L949.1,447.4 L951.8,446.5 L954.5,445.8 L957.3,445.4 L960.0,445.2 L962.7,445.2 L965.5,445.5 L968.2,445.9 L970.9,446.6 L973.6,447.4 L976.2,448.3 L978.9,449.5 L981.5,450.8 L984.1,452.2 L986.7,453.7 L989.2,455.3 L991.8,457.0 L994.2,458.9 L996.7,460.7 L999.1,462.7 L1001.4,464.7 L1003.8,466.7 L1006.1,468.8 L1008.4,470.9 L1010.6,473.0 L1012.9,475.1 L1015.1,477.2 L1017.4,479.3 L1019.7,481.4 L1021.9,483.5 L1024.2,485.5 L1026.5,487.4 L1028.8,489.4 L1031.2,491.2 L1033.6,493.0 L1036.0,494.7 L1038.5,496.3 L1041.0,497.8 L1043.6,499.2 L1046.3,500.5 L1049.0,501.7 L1051.7,502.8 L1054.5,503.9 L1057.4,504.8 L1060.2,505.6 L1063.1,506.4 L1066.1,507.1 L1069.1,507.7 L1072.1,508.2 L1075.1,508.7 L1078.1,509.1 L1081.2,509.5 L1084.3,509.8 L1087.3,510.1 L1090.4,510.4 L1093.5,510.6 L1096.6,510.7 L1099.7,510.9 L1102.8,511.0 L1105.8,511.1 L1108.9,511.1 L1111.9,511.2 L1115.0,511.2 L1118.0,511.2 L1121.1,511.2 L1124.1,511.2 L1127.1,511.2 L1130.2,511.2 L1133.2,511.2 L1136.2,511.2 L1139.2,511.1 L1142.2,511.1 L1145.2,511.1 L1148.2,511.1 L1151.2,511.1 L1154.2,511.1 L1157.2,511.1 L1160.2,511.1 L1163.2,511.2 L1166.2,511.2 L1169.2,511.3 L1172.2,511.4 L1175.2,511.6 L1178.2,511.7 L1181.2,511.9 L1184.2,512.1 L1187.2,512.3 L1190.2,512.5 L1193.2,512.8 L1196.2,513.0 L1199.2,513.3 L1202.2,513.6 L1205.2,514.0 L1208.3,514.3 L1211.3,514.6 L1214.3,515.0 L1217.3,515.4 L1220.3,515.7 L1223.3,516.1 L1226.3,516.5 L1229.3,516.9 L1232.3,517.3 L1235.3,517.7 L1238.3,518.2 L1241.4,518.6 L1244.4,519.0 L1247.4,519.4 L1250.4,519.9 L1253.4,520.3 L1256.4,520.7 L1259.4,521.1 L1262.4,521.5 L1265.4,522.0 L1268.4,522.4 L1271.4,522.8 L1274.5,523.2 L1277.5,523.6 L1280.5,523.9 L1283.5,524.3 L1286.5,524.7 L1289.5,525.0 L1292.5,525.4 L1295.5,525.7 L1298.5,526.0 L1301.5,526.4 L1304.5,526.7 L1307.5,527.0 L1310.5,527.3 L1313.5,527.6 L1316.5,527.9 L1319.5,528.1 L1322.5,528.4 L1325.5,528.6 L1328.5,528.9 L1331.5,529.1 L1334.6,529.3 L1337.6,529.5 L1340.6,529.7 L1343.6,529.9 L1346.6,530.1 L1349.6,530.3 L1352.6,530.4 L1355.6,530.6 L1358.6,530.7 L1361.6,530.9 L1364.7,531.0 L1367.7,531.1 L1370.7,531.2 L1373.7,531.3 L1376.7,531.3 L1379.7,531.4 L1382.8,531.4 L1385.8,531.5 L1388.8,531.5 L1391.8,531.5 L1394.9,531.5 L1397.9,531.5 L1400.9,531.5 L1404.0,531.5 L1407.0,531.5 L1410.0,531.5 L1413.0,531.4 L1416.1,531.4 L1419.1,531.4 L1422.1,531.3 L1425.2,531.3 L1428.2,531.2 L1431.2,531.1 L1434.3,531.1 L1437.3,531.0 L1440.3,531.0 L1443.4,530.9 L1446.4,530.8 L1449.4,530.8 L1452.5,530.7 L1455.5,530.7 L1458.5,530.6 L1461.6,530.6 L1464.6,530.5 L1467.6,530.5 L1470.7,530.5 L1473.7,530.4 L1476.7,530.4 L1479.8,530.4 L1482.8,530.4 L1485.8,530.4 L1488.8,530.4 L1491.9,530.4 L1494.9,530.4 L1497.9,530.4 L1500.9,530.5 L1503.9,530.5 L1506.9,530.6 L1510.0,530.7 L1513.0,530.8 L1516.0,530.9 L1519.0,531.0" stroke="#ff1010" stroke-width="2.9" fill="none" stroke-dasharray="4.2 4.5"/><g fill="none" stroke="#111" stroke-width="1.45"><circle cx="938.8" cy="17.7" r="2.2"/><circle cx="938.8" cy="40.6" r="2.2"/><circle cx="940.3" cy="61.3" r="2.2"/><circle cx="948.5" cy="77.4" r="2.2"/><circle cx="948.5" cy="101.3" r="2.2"/><circle cx="940.1" cy="113.2" r="2.2"/><circle cx="915.0" cy="116.3" r="2.2"/><circle cx="1016.7" cy="32.0" r="2.2"/><circle cx="1028.3" cy="56.7" r="2.2"/><circle cx="1028.3" cy="62.6" r="2.2"/><circle cx="1028.3" cy="74.1" r="2.2"/><circle cx="1016.7" cy="81.8" r="2.2"/><circle cx="1028.3" cy="106.8" r="2.2"/><circle cx="1040.2" cy="104.8" r="2.2"/><circle cx="1040.6" cy="105.3" r="2.2"/><circle cx="1011.2" cy="130.6" r="2.2"/><circle cx="990.7" cy="147.5" r="2.2"/><circle cx="915.0" cy="157.8" r="2.2"/><circle cx="926.0" cy="166.6" r="2.2"/><circle cx="928.2" cy="172.6" r="2.2"/><circle cx="930.6" cy="174.8" r="2.2"/><circle cx="990.7" cy="178.5" r="2.2"/><circle cx="1002.6" cy="184.9" r="2.2"/><circle cx="1011.2" cy="165.1" r="2.2"/><circle cx="1011.2" cy="172.1" r="2.2"/><circle cx="1025.3" cy="180.7" r="2.2"/><circle cx="930.2" cy="191.7" r="2.2"/><circle cx="925.1" cy="213.3" r="2.2"/><circle cx="928.2" cy="221.6" r="2.2"/><circle cx="922.3" cy="227.4" r="2.2"/><circle cx="907.7" cy="234.9" r="2.2"/><circle cx="907.9" cy="235.4" r="2.2"/><circle cx="926.0" cy="243.6" r="2.2"/><circle cx="1002.6" cy="221.9" r="2.2"/><circle cx="1011.2" cy="230.4" r="2.2"/><circle cx="1019.8" cy="240.3" r="2.2"/><circle cx="1025.3" cy="248.7" r="2.2"/><circle cx="1028.6" cy="250.9" r="2.2"/><circle cx="1028.6" cy="260.0" r="2.2"/><circle cx="1047.9" cy="260.0" r="2.2"/><circle cx="907.3" cy="259.1" r="2.2"/><circle cx="907.3" cy="261.9" r="2.2"/><circle cx="907.3" cy="265.6" r="2.2"/><circle cx="922.7" cy="260.0" r="2.2"/><circle cx="918.3" cy="270.5" r="2.2"/><circle cx="976.4" cy="261.0" r="2.2"/><circle cx="997.1" cy="255.5" r="2.2"/><circle cx="976.4" cy="273.8" r="2.2"/><circle cx="1047.9" cy="277.8" r="2.2"/><circle cx="918.3" cy="286.9" r="2.2"/><circle cx="990.7" cy="281.4" r="2.2"/><circle cx="997.1" cy="292.4" r="2.2"/><circle cx="957.1" cy="294.2" r="2.2"/><circle cx="952.9" cy="298.8" r="2.2"/><circle cx="966.0" cy="313.1" r="2.2"/><circle cx="984.1" cy="303.9" r="2.2"/><circle cx="986.1" cy="306.7" r="2.2"/><circle cx="991.1" cy="307.9" r="2.2"/><circle cx="1013.4" cy="303.9" r="2.2"/><circle cx="1008.1" cy="314.0" r="2.2"/><circle cx="1025.3" cy="308.5" r="2.2"/><circle cx="1030.1" cy="301.2" r="2.2"/><circle cx="1043.3" cy="300.8" r="2.2"/><circle cx="990.7" cy="316.2" r="2.2"/><circle cx="910.8" cy="321.7" r="2.2"/><circle cx="902.2" cy="333.8" r="2.2"/><circle cx="1043.3" cy="316.7" r="2.2"/><circle cx="1042.4" cy="319.9" r="2.2"/><circle cx="1044.8" cy="324.1" r="2.2"/><circle cx="1006.6" cy="331.0" r="2.2"/><circle cx="1029.5" cy="337.8" r="2.2"/><circle cx="1042.4" cy="337.8" r="2.2"/><circle cx="1047.9" cy="342.4" r="2.2"/><circle cx="957.1" cy="343.3" r="2.2"/><circle cx="952.9" cy="349.7" r="2.2"/><circle cx="966.0" cy="345.1" r="2.2"/><circle cx="1007.6" cy="346.6" r="2.2"/><circle cx="1025.0" cy="344.8" r="2.2"/><circle cx="1019.5" cy="348.8" r="2.2"/><circle cx="1019.5" cy="352.1" r="2.2"/><circle cx="1006.6" cy="361.3" r="2.2"/><circle cx="1019.5" cy="365.7" r="2.2"/><circle cx="1006.6" cy="371.2" r="2.2"/><circle cx="1042.4" cy="369.0" r="2.2"/><circle cx="1044.8" cy="373.9" r="2.2"/><circle cx="990.7" cy="376.3" r="2.2"/><circle cx="991.4" cy="380.9" r="2.2"/><circle cx="969.1" cy="395.6" r="2.2"/><circle cx="910.8" cy="381.3" r="2.2"/><circle cx="902.2" cy="392.3" r="2.2"/><circle cx="907.7" cy="402.9" r="2.2"/><circle cx="1006.6" cy="387.3" r="2.2"/><circle cx="1013.1" cy="392.3" r="2.2"/><circle cx="1033.2" cy="389.1" r="2.2"/><circle cx="1046.0" cy="400.1" r="2.2"/><circle cx="1046.6" cy="405.6" r="2.2"/><circle cx="1004.8" cy="403.8" r="2.2"/><circle cx="1022.2" cy="416.9" r="2.2"/><circle cx="1021.3" cy="420.5" r="2.2"/><circle cx="969.1" cy="432.4" r="2.2"/><circle cx="985.2" cy="426.9" r="2.2"/><circle cx="1008.8" cy="426.9" r="2.2"/><circle cx="1045.7" cy="434.5" r="2.2"/><circle cx="907.7" cy="442.2" r="2.2"/><circle cx="925.1" cy="432.1" r="2.2"/><circle cx="984.1" cy="444.9" r="2.2"/><circle cx="1020.9" cy="438.9" r="2.2"/><circle cx="1032.7" cy="441.2" r="2.2"/><circle cx="1031.7" cy="445.5" r="2.2"/><circle cx="1031.7" cy="449.5" r="2.2"/><circle cx="1047.9" cy="454.1" r="2.2"/><circle cx="1051.5" cy="460.5" r="2.2"/><circle cx="1004.8" cy="460.5" r="2.2"/><circle cx="907.7" cy="473.3" r="2.2"/><circle cx="911.9" cy="482.1" r="2.2"/><circle cx="911.9" cy="494.4" r="2.2"/><circle cx="1008.8" cy="473.3" r="2.2"/><circle cx="1022.2" cy="472.4" r="2.2"/><circle cx="1046.6" cy="477.9" r="2.2"/><circle cx="1062.8" cy="246.0" r="2.2"/><circle cx="1062.8" cy="249.4" r="2.2"/><circle cx="1062.8" cy="256.4" r="2.2"/><circle cx="1062.8" cy="276.0" r="2.2"/><circle cx="1160.1" cy="305.2" r="2.2"/><circle cx="1160.1" cy="350.6" r="2.2"/><circle cx="1174.2" cy="370.4" r="2.2"/><circle cx="1174.2" cy="387.7" r="2.2"/><circle cx="1123.4" cy="390.0" r="2.2"/><circle cx="1070.7" cy="416.1" r="2.2"/><circle cx="1070.7" cy="429.0" r="2.2"/><circle cx="1078.9" cy="432.4" r="2.2"/><circle cx="1085.7" cy="431.5" r="2.2"/><circle cx="1052.3" cy="451.9" r="2.2"/><circle cx="1052.0" cy="460.5" r="2.2"/><circle cx="1085.7" cy="461.8" r="2.2"/><circle cx="1078.9" cy="470.6" r="2.2"/><circle cx="1123.4" cy="446.7" r="2.2"/><circle cx="1275.6" cy="322.4" r="2.2"/><circle cx="1275.6" cy="374.5" r="2.2"/><circle cx="1313.7" cy="454.2" r="2.2"/><circle cx="1386.7" cy="342.4" r="2.2"/><circle cx="1386.8" cy="397.5" r="2.2"/><circle cx="1454.1" cy="473.4" r="2.2"/></g><g fill="none" stroke="#111" stroke-width="1.45"><path d="M930.8,66.5l5.0,5.0M930.8,71.5l5.0,-5.0"/><path d="M930.8,81.7l5.0,5.0M930.8,86.7l5.0,-5.0"/><path d="M925.3,135.8l5.0,5.0M925.3,140.8l5.0,-5.0"/><path d="M925.7,134.9l5.0,5.0M925.7,139.9l5.0,-5.0"/><path d="M993.5,124.8l5.0,5.0M993.5,129.8l5.0,-5.0"/><path d="M969.9,164.1l5.0,5.0M969.9,169.1l5.0,-5.0"/><path d="M983.6,173.8l5.0,5.0M983.6,178.8l5.0,-5.0"/><path d="M993.5,171.0l5.0,5.0M993.5,176.0l5.0,-5.0"/><path d="M1038.0,174.7l5.0,5.0M1038.0,179.7l5.0,-5.0"/><path d="M903.7,191.0l5.0,5.0M903.7,196.0l5.0,-5.0"/><path d="M969.9,187.5l5.0,5.0M969.9,192.5l5.0,-5.0"/><path d="M984.0,189.7l5.0,5.0M984.0,194.7l5.0,-5.0"/><path d="M981.6,194.0l5.0,5.0M981.6,199.0l5.0,-5.0"/><path d="M984.0,198.0l5.0,5.0M984.0,203.0l5.0,-5.0"/><path d="M933.0,200.7l5.0,5.0M933.0,205.7l5.0,-5.0"/><path d="M933.0,220.5l5.0,5.0M933.0,225.5l5.0,-5.0"/><path d="M911.6,240.1l5.0,5.0M911.6,245.1l5.0,-5.0"/><path d="M1047.2,219.4l5.0,5.0M1047.2,224.4l5.0,-5.0"/><path d="M1038.0,233.2l5.0,5.0M1038.0,238.2l5.0,-5.0"/><path d="M1047.2,241.1l5.0,5.0M1047.2,246.1l5.0,-5.0"/><path d="M904.2,253.3l5.0,5.0M904.2,258.3l5.0,-5.0"/><path d="M932.3,269.8l5.0,5.0M932.3,274.8l5.0,-5.0"/><path d="M940.5,261.8l5.0,5.0M940.5,266.8l5.0,-5.0"/><path d="M952.8,253.0l5.0,5.0M952.8,258.0l5.0,-5.0"/><path d="M952.8,264.3l5.0,5.0M952.8,269.3l5.0,-5.0"/><path d="M969.9,254.8l5.0,5.0M969.9,259.8l5.0,-5.0"/><path d="M969.9,258.8l5.0,5.0M969.9,263.8l5.0,-5.0"/><path d="M978.5,253.0l5.0,5.0M978.5,258.0l5.0,-5.0"/><path d="M978.5,260.7l5.0,5.0M978.5,265.7l5.0,-5.0"/><path d="M984.0,247.5l5.0,5.0M984.0,252.5l5.0,-5.0"/><path d="M993.5,258.5l5.0,5.0M993.5,263.5l5.0,-5.0"/><path d="M993.5,274.0l5.0,5.0M993.5,279.0l5.0,-5.0"/><path d="M911.6,281.8l5.0,5.0M911.6,286.8l5.0,-5.0"/><path d="M952.8,278.9l5.0,5.0M952.8,283.9l5.0,-5.0"/><path d="M964.2,280.3l5.0,5.0M964.2,285.3l5.0,-5.0"/><path d="M981.6,279.4l5.0,5.0M981.6,284.4l5.0,-5.0"/><path d="M998.6,283.1l5.0,5.0M998.6,288.1l5.0,-5.0"/><path d="M940.4,288.6l5.0,5.0M940.4,293.6l5.0,-5.0"/><path d="M939.6,296.3l5.0,5.0M939.6,301.3l5.0,-5.0"/><path d="M969.9,296.3l5.0,5.0M969.9,301.3l5.0,-5.0"/><path d="M939.6,304.2l5.0,5.0M939.6,309.2l5.0,-5.0"/><path d="M932.3,310.6l5.0,5.0M932.3,315.6l5.0,-5.0"/><path d="M952.8,312.4l5.0,5.0M952.8,317.4l5.0,-5.0"/><path d="M993.5,306.4l5.0,5.0M993.5,311.4l5.0,-5.0"/><path d="M998.6,303.8l5.0,5.0M998.6,308.8l5.0,-5.0"/><path d="M1005.6,296.3l5.0,5.0M1005.6,301.3l5.0,-5.0"/><path d="M1009.6,305.1l5.0,5.0M1009.6,310.1l5.0,-5.0"/><path d="M1027.6,295.9l5.0,5.0M1027.6,300.9l5.0,-5.0"/><path d="M1027.6,301.4l5.0,5.0M1027.6,306.4l5.0,-5.0"/><path d="M1044.5,298.7l5.0,5.0M1044.5,303.7l5.0,-5.0"/><path d="M990.9,319.7l5.0,5.0M990.9,324.7l5.0,-5.0"/><path d="M964.2,325.8l5.0,5.0M964.2,330.8l5.0,-5.0"/><path d="M1044.5,314.8l5.0,5.0M1044.5,319.8l5.0,-5.0"/><path d="M1009.6,336.8l5.0,5.0M1009.6,341.8l5.0,-5.0"/><path d="M976.3,339.9l5.0,5.0M976.3,344.9l5.0,-5.0"/><path d="M1005.1,344.1l5.0,5.0M1005.1,349.1l5.0,-5.0"/><path d="M1044.5,348.1l5.0,5.0M1044.5,353.1l5.0,-5.0"/><path d="M986.7,352.7l5.0,5.0M986.7,357.7l5.0,-5.0"/><path d="M987.6,355.5l5.0,5.0M987.6,360.5l5.0,-5.0"/><path d="M990.4,357.3l5.0,5.0M990.4,362.3l5.0,-5.0"/><path d="M985.8,356.9l5.0,5.0M985.8,361.9l5.0,-5.0"/><path d="M991.9,359.1l5.0,5.0M991.9,364.1l5.0,-5.0"/><path d="M1019.7,357.7l5.0,5.0M1019.7,362.7l5.0,-5.0"/><path d="M1011.8,368.7l5.0,5.0M1011.8,373.7l5.0,-5.0"/><path d="M1038.0,371.1l5.0,5.0M1038.0,376.1l5.0,-5.0"/><path d="M970.8,373.4l5.0,5.0M970.8,378.4l5.0,-5.0"/><path d="M988.9,383.3l5.0,5.0M988.9,388.3l5.0,-5.0"/><path d="M962.0,382.1l5.0,5.0M962.0,387.1l5.0,-5.0"/><path d="M962.0,388.5l5.0,5.0M962.0,393.5l5.0,-5.0"/><path d="M976.3,393.1l5.0,5.0M976.3,398.1l5.0,-5.0"/><path d="M905.2,384.8l5.0,5.0M905.2,389.8l5.0,-5.0"/><path d="M1019.7,377.5l5.0,5.0M1019.7,382.5l5.0,-5.0"/><path d="M1026.1,384.8l5.0,5.0M1026.1,389.8l5.0,-5.0"/><path d="M1035.3,384.8l5.0,5.0M1035.3,389.8l5.0,-5.0"/><path d="M1038.0,389.4l5.0,5.0M1038.0,394.4l5.0,-5.0"/><path d="M1009.3,404.6l5.0,5.0M1009.3,409.6l5.0,-5.0"/><path d="M970.8,410.3l5.0,5.0M970.8,415.3l5.0,-5.0"/><path d="M979.4,413.6l5.0,5.0M979.4,418.6l5.0,-5.0"/><path d="M1031.3,416.7l5.0,5.0M1031.3,421.7l5.0,-5.0"/><path d="M969.9,424.6l5.0,5.0M969.9,429.6l5.0,-5.0"/><path d="M989.5,426.3l5.0,5.0M989.5,431.3l5.0,-5.0"/><path d="M1018.2,426.5l5.0,5.0M1018.2,431.5l5.0,-5.0"/><path d="M1025.8,428.7l5.0,5.0M1025.8,433.7l5.0,-5.0"/><path d="M1034.7,426.5l5.0,5.0M1034.7,431.5l5.0,-5.0"/><path d="M903.7,432.9l5.0,5.0M903.7,437.9l5.0,-5.0"/><path d="M939.6,435.1l5.0,5.0M939.6,440.1l5.0,-5.0"/><path d="M939.6,442.4l5.0,5.0M939.6,447.4l5.0,-5.0"/><path d="M969.9,441.5l5.0,5.0M969.9,446.5l5.0,-5.0"/><path d="M1011.8,446.1l5.0,5.0M1011.8,451.1l5.0,-5.0"/><path d="M1050.0,443.0l5.0,5.0M1050.0,448.0l5.0,-5.0"/><path d="M907.4,450.7l5.0,5.0M907.4,455.7l5.0,-5.0"/><path d="M903.7,454.7l5.0,5.0M903.7,459.7l5.0,-5.0"/><path d="M979.4,462.2l5.0,5.0M979.4,467.2l5.0,-5.0"/><path d="M1030.2,459.3l5.0,5.0M1030.2,464.3l5.0,-5.0"/><path d="M938.5,474.1l5.0,5.0M938.5,479.1l5.0,-5.0"/><path d="M938.5,478.1l5.0,5.0M938.5,483.1l5.0,-5.0"/><path d="M1011.5,471.2l5.0,5.0M1011.5,476.2l5.0,-5.0"/><path d="M1037.7,469.9l5.0,5.0M1037.7,474.9l5.0,-5.0"/><path d="M1028.0,482.7l5.0,5.0M1028.0,487.7l5.0,-5.0"/><path d="M1018.8,489.5l5.0,5.0M1018.8,494.5l5.0,-5.0"/><path d="M1028.0,490.6l5.0,5.0M1028.0,495.6l5.0,-5.0"/><path d="M1037.7,486.8l5.0,5.0M1037.7,491.8l5.0,-5.0"/><path d="M1010.5,497.0l5.0,5.0M1010.5,502.0l5.0,-5.0"/><path d="M1161.6,258.5l5.0,5.0M1161.6,263.5l5.0,-5.0"/><path d="M1161.6,275.9l5.0,5.0M1161.6,280.9l5.0,-5.0"/><path d="M1078.2,308.2l5.0,5.0M1078.2,313.2l5.0,-5.0"/><path d="M1162.0,296.3l5.0,5.0M1162.0,301.3l5.0,-5.0"/><path d="M1163.8,313.7l5.0,5.0M1163.8,318.7l5.0,-5.0"/><path d="M1162.5,328.0l5.0,5.0M1162.5,333.0l5.0,-5.0"/><path d="M1163.8,328.9l5.0,5.0M1163.8,333.9l5.0,-5.0"/><path d="M1078.2,347.6l5.0,5.0M1078.2,352.6l5.0,-5.0"/><path d="M1052.9,360.6l5.0,5.0M1052.9,365.6l5.0,-5.0"/><path d="M1178.1,372.9l5.0,5.0M1178.1,377.9l5.0,-5.0"/><path d="M1178.1,377.1l5.0,5.0M1178.1,382.1l5.0,-5.0"/><path d="M1100.8,378.4l5.0,5.0M1100.8,383.4l5.0,-5.0"/><path d="M1100.8,388.5l5.0,5.0M1100.8,393.5l5.0,-5.0"/><path d="M1114.3,387.5l5.0,5.0M1114.3,392.5l5.0,-5.0"/><path d="M1052.9,389.4l5.0,5.0M1052.9,394.4l5.0,-5.0"/><path d="M1062.7,394.9l5.0,5.0M1062.7,399.9l5.0,-5.0"/><path d="M1114.3,405.9l5.0,5.0M1114.3,410.9l5.0,-5.0"/><path d="M1050.7,405.3l5.0,5.0M1050.7,410.3l5.0,-5.0"/><path d="M1062.7,435.4l5.0,5.0M1062.7,440.4l5.0,-5.0"/><path d="M1050.7,443.0l5.0,5.0M1050.7,448.0l5.0,-5.0"/><path d="M1053.5,458.0l5.0,5.0M1053.5,463.0l5.0,-5.0"/><path d="M1120.9,445.2l5.0,5.0M1120.9,450.2l5.0,-5.0"/><path d="M1120.9,469.0l5.0,5.0M1120.9,474.0l5.0,-5.0"/><path d="M1052.9,519.9l5.0,5.0M1052.9,524.9l5.0,-5.0"/><path d="M1293.3,301.9l5.0,5.0M1293.3,306.9l5.0,-5.0"/><path d="M1293.3,305.2l5.0,5.0M1293.3,310.2l5.0,-5.0"/><path d="M1337.8,326.6l5.0,5.0M1337.8,331.6l5.0,-5.0"/><path d="M1337.8,344.4l5.0,5.0M1337.8,349.4l5.0,-5.0"/><path d="M1254.8,355.9l5.0,5.0M1254.8,360.9l5.0,-5.0"/><path d="M1247.1,382.1l5.0,5.0M1247.1,387.1l5.0,-5.0"/><path d="M1254.8,386.5l5.0,5.0M1254.8,391.5l5.0,-5.0"/><path d="M1247.1,400.8l5.0,5.0M1247.1,405.8l5.0,-5.0"/><path d="M1253.9,409.4l5.0,5.0M1253.9,414.4l5.0,-5.0"/><path d="M1253.9,419.1l5.0,5.0M1253.9,424.1l5.0,-5.0"/><path d="M1236.5,443.8l5.0,5.0M1236.5,448.8l5.0,-5.0"/><path d="M1236.5,448.0l5.0,5.0M1236.5,453.0l5.0,-5.0"/><path d="M1251.5,461.6l5.0,5.0M1251.5,466.6l5.0,-5.0"/><path d="M1311.2,448.4l5.0,5.0M1311.2,453.4l5.0,-5.0"/><path d="M1311.2,454.8l5.0,5.0M1311.2,459.8l5.0,-5.0"/><path d="M1324.0,435.6l5.0,5.0M1324.0,440.6l5.0,-5.0"/><path d="M1251.7,471.3l5.0,5.0M1251.7,476.3l5.0,-5.0"/><path d="M1324.0,500.3l5.0,5.0M1324.0,505.3l5.0,-5.0"/><path d="M1380.0,365.9l5.0,5.0M1380.0,370.9l5.0,-5.0"/><path d="M1380.0,376.6l5.0,5.0M1380.0,381.6l5.0,-5.0"/><path d="M1447.8,362.3l5.0,5.0M1447.8,367.3l5.0,-5.0"/><path d="M1481.6,390.9l5.0,5.0M1481.6,395.9l5.0,-5.0"/><path d="M1448.0,397.5l5.0,5.0M1448.0,402.5l5.0,-5.0"/><path d="M1424.5,409.5l5.0,5.0M1424.5,414.5l5.0,-5.0"/><path d="M1481.5,406.1l5.0,5.0M1481.5,411.1l5.0,-5.0"/><path d="M1424.5,442.1l5.0,5.0M1424.5,447.1l5.0,-5.0"/><path d="M1451.6,467.6l5.0,5.0M1451.6,472.6l5.0,-5.0"/><path d="M1451.6,473.9l5.0,5.0M1451.6,478.9l5.0,-5.0"/><path d="M1515.0,468.0l5.0,5.0M1515.0,473.0l5.0,-5.0"/><path d="M1515.0,479.8l5.0,5.0M1515.0,484.8l5.0,-5.0"/><path d="M1436.3,494.9l5.0,5.0M1436.3,499.9l5.0,-5.0"/><path d="M1436.3,511.2l5.0,5.0M1436.3,516.2l5.0,-5.0"/></g><path d="M103,640.3H706" stroke="#eeeeee" stroke-width="1.2"/><path d="M742.7,636v5M791,636v5" stroke="#c8c8c8" stroke-width="1.2"/><rect x="486.3" y="666.4" width="599.3" height="92.1" fill="none" stroke="#d0d0d0" stroke-width="1.3"/><circle cx="521" cy="685.8" r="6.8" fill="none" stroke="#111" stroke-width="1.5"/><path d="M813.2,678.5l13.4,13.4M813.2,691.9l13.4,-13.4" stroke="#111" stroke-width="1.4"/><path d="M491,713.7H551" stroke="#3838f4" stroke-width="4.2"/><path d="M790,713.7H850" stroke="#ff3a3a" stroke-width="4.2"/><path d="M492.6,743.4H550" stroke="#0a0aff" stroke-width="2.8" stroke-dasharray="4.4 4.2"/><path d="M791.5,743.4H849" stroke="#ff1010" stroke-width="2.8" stroke-dasharray="4.4 4.2"/><text x="559.4" y="692.7" font-size="24.5" font-family="Liberation Serif, Times New Roman, serif">Males</text><text x="858.6" y="692.7" font-size="24.5" font-family="Liberation Serif, Times New Roman, serif">Females</text><text x="559.4" y="722.0" font-size="24.5" font-family="Liberation Serif, Times New Roman, serif">Mean</text><text x="858.6" y="722.0" font-size="24.5" font-family="Liberation Serif, Times New Roman, serif">Mean</text><text x="559.4" y="751.4" font-size="24.5" font-family="Liberation Serif, Times New Roman, serif">5th &amp; 95th percentiles</text><text x="858.6" y="751.4" font-size="24.5" font-family="Liberation Serif, Times New Roman, serif">5th &amp; 95th percentiles</text></svg>
</body></html>
